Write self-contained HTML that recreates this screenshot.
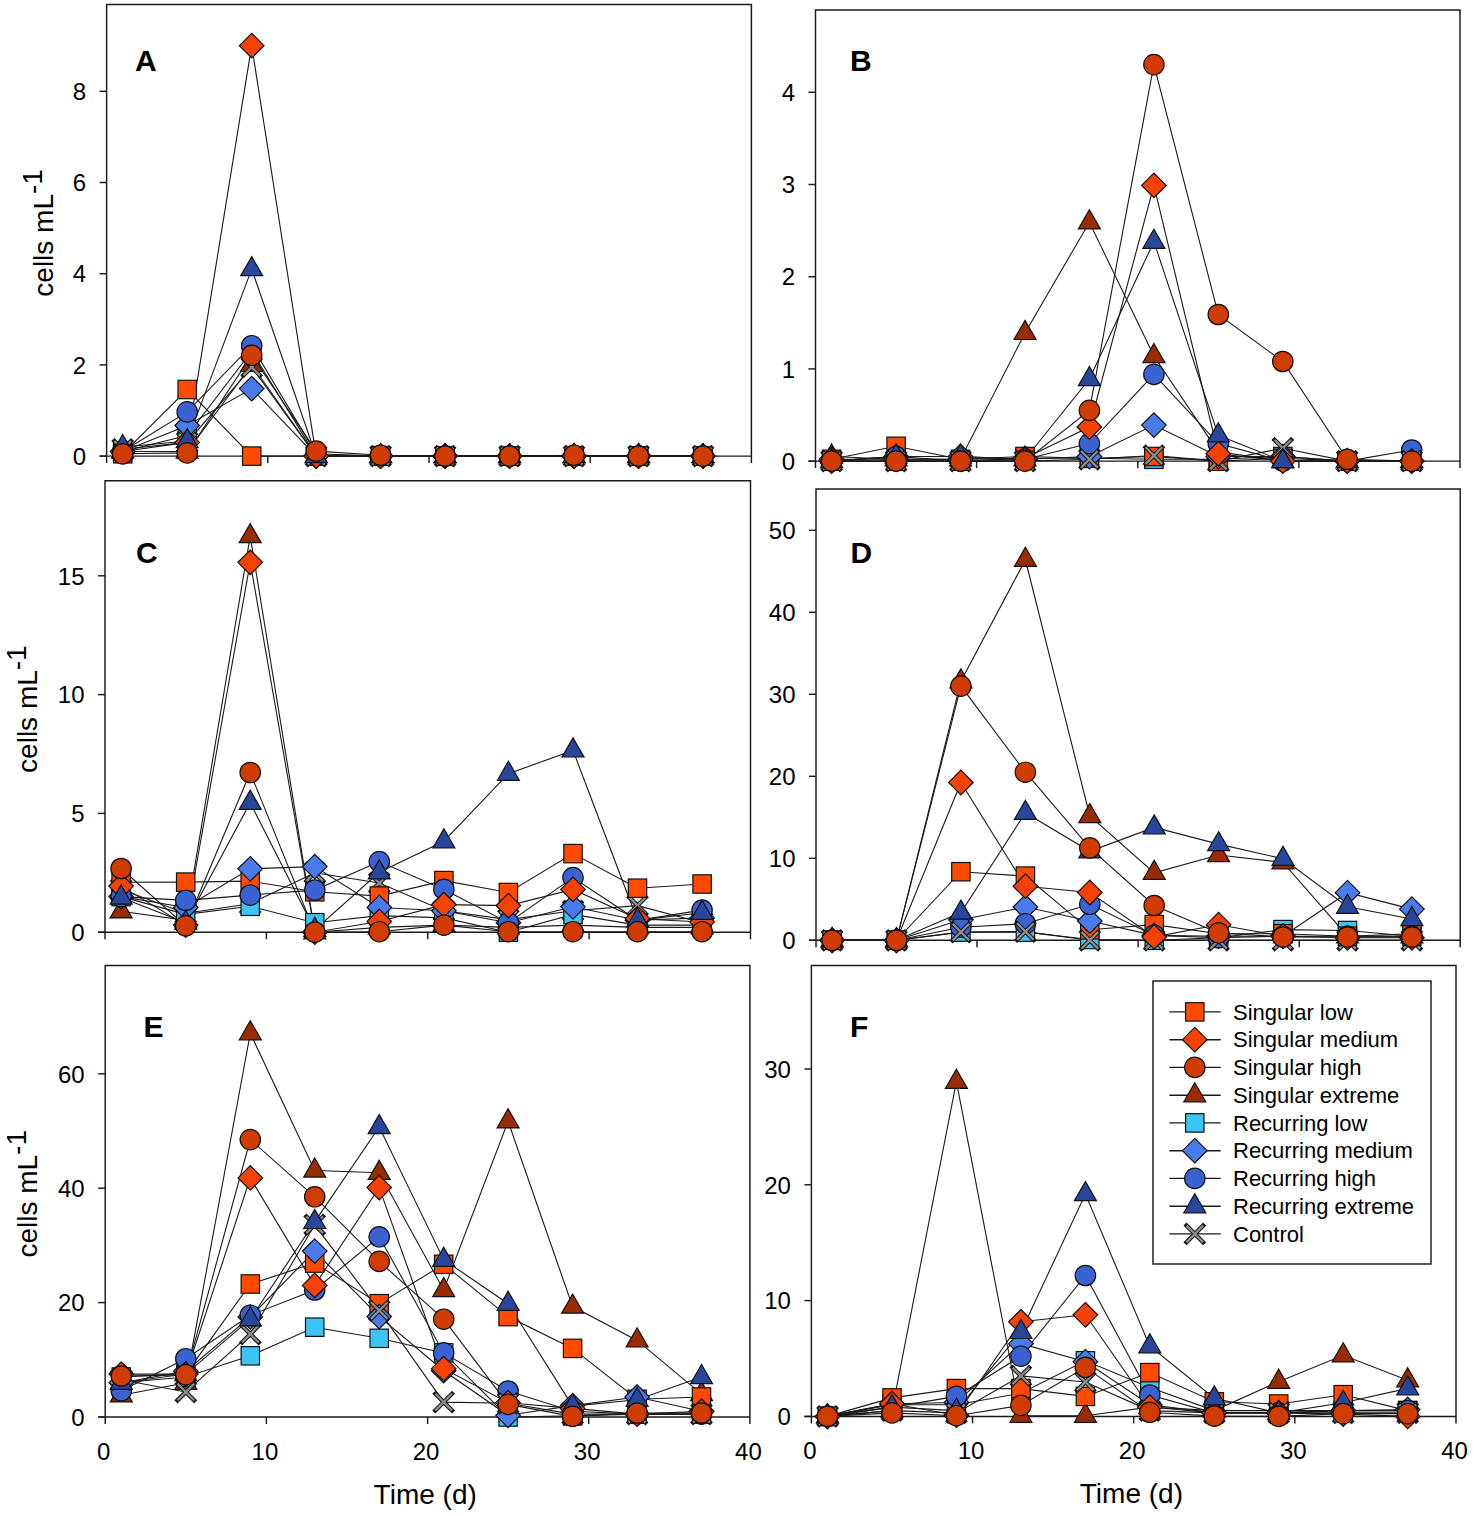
<!DOCTYPE html><html><head><meta charset="utf-8"><style>html,body{margin:0;padding:0;background:#fff}svg{display:block}</style></head><body><svg width="1476" height="1516" viewBox="0 0 1476 1516" font-family='"Liberation Sans", sans-serif'><rect width="1476" height="1516" fill="#fff"/><g><path d="M106.6 463.1V4.5H751.4V463.1" fill="none" stroke="#1a1a1a" stroke-width="1.45"/><path d="M99.6 456.1H751.4" fill="none" stroke="#1a1a1a" stroke-width="1.45"/><path d="M99.6 456.1H106.6" stroke="#1a1a1a" stroke-width="1.45"/><text x="86.1" y="464.8" font-size="24" text-anchor="end">0</text><path d="M99.6 364.9H106.6" stroke="#1a1a1a" stroke-width="1.45"/><text x="86.1" y="373.6" font-size="24" text-anchor="end">2</text><path d="M99.6 273.7H106.6" stroke="#1a1a1a" stroke-width="1.45"/><text x="86.1" y="282.4" font-size="24" text-anchor="end">4</text><path d="M99.6 182.5H106.6" stroke="#1a1a1a" stroke-width="1.45"/><text x="86.1" y="191.2" font-size="24" text-anchor="end">6</text><path d="M99.6 91.3H106.6" stroke="#1a1a1a" stroke-width="1.45"/><text x="86.1" y="100.0" font-size="24" text-anchor="end">8</text><path d="M267.8 456.1V463.1" stroke="#1a1a1a" stroke-width="1.45"/><path d="M429.0 456.1V463.1" stroke="#1a1a1a" stroke-width="1.45"/><path d="M590.2 456.1V463.1" stroke="#1a1a1a" stroke-width="1.45"/><text transform="translate(53,232.9) rotate(-90)" font-size="28" text-anchor="middle">cells mL<tspan dy="-11" font-size="28">-1</tspan></text><text x="135" y="71" font-size="30" font-weight="bold">A</text><polyline points="122.7,451.5 187.2,451.5 251.7,364.9 316.2,456.1 380.6,456.1 445.1,456.1 509.6,456.1 574.1,456.1 638.6,456.1 703.0,456.1" fill="none" stroke="#1a1a1a" stroke-width="1.1"/><polyline points="122.7,451.5 187.2,435.6 251.7,351.2 316.2,456.1 380.6,456.1 445.1,456.1 509.6,456.1 574.1,456.1 638.6,456.1 703.0,456.1" fill="none" stroke="#1a1a1a" stroke-width="1.1"/><polyline points="122.7,453.8 187.2,389.5 251.7,456.1 316.2,456.1 380.6,456.1 445.1,456.1 509.6,456.1 574.1,456.1 638.6,456.1 703.0,456.1" fill="none" stroke="#1a1a1a" stroke-width="1.1"/><polyline points="122.7,451.5 187.2,425.5 251.7,388.6 316.2,456.1 380.6,456.1 445.1,456.1 509.6,456.1 574.1,456.1 638.6,456.1 703.0,456.1" fill="none" stroke="#1a1a1a" stroke-width="1.1"/><polyline points="122.7,451.5 187.2,411.9 251.7,345.7 316.2,453.8 380.6,456.1 445.1,456.1 509.6,456.1 574.1,456.1 638.6,456.1 703.0,456.1" fill="none" stroke="#1a1a1a" stroke-width="1.1"/><polyline points="122.7,449.3 187.2,442.4 251.7,367.2 316.2,456.1 380.6,456.1 445.1,456.1 509.6,456.1 574.1,456.1 638.6,456.1 703.0,456.1" fill="none" stroke="#1a1a1a" stroke-width="1.1"/><polyline points="122.7,451.5 187.2,442.4 251.7,45.7 316.2,456.1 380.6,456.1 445.1,456.1 509.6,456.1 574.1,456.1 638.6,456.1 703.0,456.1" fill="none" stroke="#1a1a1a" stroke-width="1.1"/><polyline points="122.7,447.0 187.2,441.1 251.7,269.1 316.2,456.1 380.6,456.1 445.1,456.1 509.6,456.1 574.1,456.1 638.6,456.1 703.0,456.1" fill="none" stroke="#1a1a1a" stroke-width="1.1"/><polyline points="122.7,453.8 187.2,452.9 251.7,355.3 316.2,451.1 380.6,455.2 445.1,456.1 509.6,456.1 574.1,455.2 638.6,456.1 703.0,456.1" fill="none" stroke="#1a1a1a" stroke-width="1.1"/><path d="M122.7 439.0L133.7 458.1L111.7 458.1Z" fill="#992B00" stroke="#111" stroke-width="1.2"/><path d="M187.2 439.0L198.2 458.1L176.2 458.1Z" fill="#992B00" stroke="#111" stroke-width="1.2"/><path d="M251.7 352.4L262.7 371.5L240.7 371.5Z" fill="#992B00" stroke="#111" stroke-width="1.2"/><path d="M316.2 443.6L327.2 462.7L305.2 462.7Z" fill="#992B00" stroke="#111" stroke-width="1.2"/><path d="M380.6 443.6L391.6 462.7L369.6 462.7Z" fill="#992B00" stroke="#111" stroke-width="1.2"/><path d="M445.1 443.6L456.1 462.7L434.1 462.7Z" fill="#992B00" stroke="#111" stroke-width="1.2"/><path d="M509.6 443.6L520.6 462.7L498.6 462.7Z" fill="#992B00" stroke="#111" stroke-width="1.2"/><path d="M574.1 443.6L585.1 462.7L563.1 462.7Z" fill="#992B00" stroke="#111" stroke-width="1.2"/><path d="M638.6 443.6L649.6 462.7L627.6 462.7Z" fill="#992B00" stroke="#111" stroke-width="1.2"/><path d="M703.0 443.6L714.0 462.7L692.0 462.7Z" fill="#992B00" stroke="#111" stroke-width="1.2"/><rect x="113.5" y="442.3" width="18.4" height="18.4" fill="#3CC4F4" stroke="#111" stroke-width="1.2"/><rect x="178.0" y="426.4" width="18.4" height="18.4" fill="#3CC4F4" stroke="#111" stroke-width="1.2"/><rect x="242.5" y="342.0" width="18.4" height="18.4" fill="#3CC4F4" stroke="#111" stroke-width="1.2"/><rect x="307.0" y="446.9" width="18.4" height="18.4" fill="#3CC4F4" stroke="#111" stroke-width="1.2"/><rect x="371.4" y="446.9" width="18.4" height="18.4" fill="#3CC4F4" stroke="#111" stroke-width="1.2"/><rect x="435.9" y="446.9" width="18.4" height="18.4" fill="#3CC4F4" stroke="#111" stroke-width="1.2"/><rect x="500.4" y="446.9" width="18.4" height="18.4" fill="#3CC4F4" stroke="#111" stroke-width="1.2"/><rect x="564.9" y="446.9" width="18.4" height="18.4" fill="#3CC4F4" stroke="#111" stroke-width="1.2"/><rect x="629.4" y="446.9" width="18.4" height="18.4" fill="#3CC4F4" stroke="#111" stroke-width="1.2"/><rect x="693.8" y="446.9" width="18.4" height="18.4" fill="#3CC4F4" stroke="#111" stroke-width="1.2"/><rect x="113.5" y="444.6" width="18.4" height="18.4" fill="#FF4A00" stroke="#111" stroke-width="1.2"/><rect x="178.0" y="380.3" width="18.4" height="18.4" fill="#FF4A00" stroke="#111" stroke-width="1.2"/><rect x="242.5" y="446.9" width="18.4" height="18.4" fill="#FF4A00" stroke="#111" stroke-width="1.2"/><rect x="307.0" y="446.9" width="18.4" height="18.4" fill="#FF4A00" stroke="#111" stroke-width="1.2"/><rect x="371.4" y="446.9" width="18.4" height="18.4" fill="#FF4A00" stroke="#111" stroke-width="1.2"/><rect x="435.9" y="446.9" width="18.4" height="18.4" fill="#FF4A00" stroke="#111" stroke-width="1.2"/><rect x="500.4" y="446.9" width="18.4" height="18.4" fill="#FF4A00" stroke="#111" stroke-width="1.2"/><rect x="564.9" y="446.9" width="18.4" height="18.4" fill="#FF4A00" stroke="#111" stroke-width="1.2"/><rect x="629.4" y="446.9" width="18.4" height="18.4" fill="#FF4A00" stroke="#111" stroke-width="1.2"/><rect x="693.8" y="446.9" width="18.4" height="18.4" fill="#FF4A00" stroke="#111" stroke-width="1.2"/><path d="M122.7 439.2L135.0 451.5L122.7 463.8L110.4 451.5Z" fill="#4A7BEA" stroke="#111" stroke-width="1.2"/><path d="M187.2 413.2L199.5 425.5L187.2 437.8L174.9 425.5Z" fill="#4A7BEA" stroke="#111" stroke-width="1.2"/><path d="M251.7 376.3L264.0 388.6L251.7 400.9L239.4 388.6Z" fill="#4A7BEA" stroke="#111" stroke-width="1.2"/><path d="M316.2 443.8L328.5 456.1L316.2 468.4L303.9 456.1Z" fill="#4A7BEA" stroke="#111" stroke-width="1.2"/><path d="M380.6 443.8L392.9 456.1L380.6 468.4L368.3 456.1Z" fill="#4A7BEA" stroke="#111" stroke-width="1.2"/><path d="M445.1 443.8L457.4 456.1L445.1 468.4L432.8 456.1Z" fill="#4A7BEA" stroke="#111" stroke-width="1.2"/><path d="M509.6 443.8L521.9 456.1L509.6 468.4L497.3 456.1Z" fill="#4A7BEA" stroke="#111" stroke-width="1.2"/><path d="M574.1 443.8L586.4 456.1L574.1 468.4L561.8 456.1Z" fill="#4A7BEA" stroke="#111" stroke-width="1.2"/><path d="M638.6 443.8L650.9 456.1L638.6 468.4L626.3 456.1Z" fill="#4A7BEA" stroke="#111" stroke-width="1.2"/><path d="M703.0 443.8L715.3 456.1L703.0 468.4L690.7 456.1Z" fill="#4A7BEA" stroke="#111" stroke-width="1.2"/><circle cx="122.7" cy="451.5" r="10.2" fill="#3A62D2" stroke="#111" stroke-width="1.2"/><circle cx="187.2" cy="411.9" r="10.2" fill="#3A62D2" stroke="#111" stroke-width="1.2"/><circle cx="251.7" cy="345.7" r="10.2" fill="#3A62D2" stroke="#111" stroke-width="1.2"/><circle cx="316.2" cy="453.8" r="10.2" fill="#3A62D2" stroke="#111" stroke-width="1.2"/><circle cx="380.6" cy="456.1" r="10.2" fill="#3A62D2" stroke="#111" stroke-width="1.2"/><circle cx="445.1" cy="456.1" r="10.2" fill="#3A62D2" stroke="#111" stroke-width="1.2"/><circle cx="509.6" cy="456.1" r="10.2" fill="#3A62D2" stroke="#111" stroke-width="1.2"/><circle cx="574.1" cy="456.1" r="10.2" fill="#3A62D2" stroke="#111" stroke-width="1.2"/><circle cx="638.6" cy="456.1" r="10.2" fill="#3A62D2" stroke="#111" stroke-width="1.2"/><circle cx="703.0" cy="456.1" r="10.2" fill="#3A62D2" stroke="#111" stroke-width="1.2"/><path d="M114.4 441.0L131.0 457.6M131.0 441.0L114.4 457.6" stroke="#1a1a1a" stroke-width="4.4" stroke-linecap="square" fill="none"/><path d="M114.4 441.0L131.0 457.6M131.0 441.0L114.4 457.6" stroke="#8e8e8e" stroke-width="2.2" fill="none"/><path d="M178.9 434.1L195.5 450.7M195.5 434.1L178.9 450.7" stroke="#1a1a1a" stroke-width="4.4" stroke-linecap="square" fill="none"/><path d="M178.9 434.1L195.5 450.7M195.5 434.1L178.9 450.7" stroke="#8e8e8e" stroke-width="2.2" fill="none"/><path d="M243.4 358.9L260.0 375.5M260.0 358.9L243.4 375.5" stroke="#1a1a1a" stroke-width="4.4" stroke-linecap="square" fill="none"/><path d="M243.4 358.9L260.0 375.5M260.0 358.9L243.4 375.5" stroke="#8e8e8e" stroke-width="2.2" fill="none"/><path d="M307.9 447.8L324.5 464.4M324.5 447.8L307.9 464.4" stroke="#1a1a1a" stroke-width="4.4" stroke-linecap="square" fill="none"/><path d="M307.9 447.8L324.5 464.4M324.5 447.8L307.9 464.4" stroke="#8e8e8e" stroke-width="2.2" fill="none"/><path d="M372.3 447.8L388.9 464.4M388.9 447.8L372.3 464.4" stroke="#1a1a1a" stroke-width="4.4" stroke-linecap="square" fill="none"/><path d="M372.3 447.8L388.9 464.4M388.9 447.8L372.3 464.4" stroke="#8e8e8e" stroke-width="2.2" fill="none"/><path d="M436.8 447.8L453.4 464.4M453.4 447.8L436.8 464.4" stroke="#1a1a1a" stroke-width="4.4" stroke-linecap="square" fill="none"/><path d="M436.8 447.8L453.4 464.4M453.4 447.8L436.8 464.4" stroke="#8e8e8e" stroke-width="2.2" fill="none"/><path d="M501.3 447.8L517.9 464.4M517.9 447.8L501.3 464.4" stroke="#1a1a1a" stroke-width="4.4" stroke-linecap="square" fill="none"/><path d="M501.3 447.8L517.9 464.4M517.9 447.8L501.3 464.4" stroke="#8e8e8e" stroke-width="2.2" fill="none"/><path d="M565.8 447.8L582.4 464.4M582.4 447.8L565.8 464.4" stroke="#1a1a1a" stroke-width="4.4" stroke-linecap="square" fill="none"/><path d="M565.8 447.8L582.4 464.4M582.4 447.8L565.8 464.4" stroke="#8e8e8e" stroke-width="2.2" fill="none"/><path d="M630.3 447.8L646.9 464.4M646.9 447.8L630.3 464.4" stroke="#1a1a1a" stroke-width="4.4" stroke-linecap="square" fill="none"/><path d="M630.3 447.8L646.9 464.4M646.9 447.8L630.3 464.4" stroke="#8e8e8e" stroke-width="2.2" fill="none"/><path d="M694.7 447.8L711.3 464.4M711.3 447.8L694.7 464.4" stroke="#1a1a1a" stroke-width="4.4" stroke-linecap="square" fill="none"/><path d="M694.7 447.8L711.3 464.4M711.3 447.8L694.7 464.4" stroke="#8e8e8e" stroke-width="2.2" fill="none"/><path d="M122.7 439.2L135.0 451.5L122.7 463.8L110.4 451.5Z" fill="#F54200" stroke="#111" stroke-width="1.2"/><path d="M187.2 430.1L199.5 442.4L187.2 454.7L174.9 442.4Z" fill="#F54200" stroke="#111" stroke-width="1.2"/><path d="M251.7 33.4L264.0 45.7L251.7 58.0L239.4 45.7Z" fill="#F54200" stroke="#111" stroke-width="1.2"/><path d="M316.2 443.8L328.5 456.1L316.2 468.4L303.9 456.1Z" fill="#F54200" stroke="#111" stroke-width="1.2"/><path d="M380.6 443.8L392.9 456.1L380.6 468.4L368.3 456.1Z" fill="#F54200" stroke="#111" stroke-width="1.2"/><path d="M445.1 443.8L457.4 456.1L445.1 468.4L432.8 456.1Z" fill="#F54200" stroke="#111" stroke-width="1.2"/><path d="M509.6 443.8L521.9 456.1L509.6 468.4L497.3 456.1Z" fill="#F54200" stroke="#111" stroke-width="1.2"/><path d="M574.1 443.8L586.4 456.1L574.1 468.4L561.8 456.1Z" fill="#F54200" stroke="#111" stroke-width="1.2"/><path d="M638.6 443.8L650.9 456.1L638.6 468.4L626.3 456.1Z" fill="#F54200" stroke="#111" stroke-width="1.2"/><path d="M703.0 443.8L715.3 456.1L703.0 468.4L690.7 456.1Z" fill="#F54200" stroke="#111" stroke-width="1.2"/><path d="M122.7 434.5L133.7 453.6L111.7 453.6Z" fill="#27469C" stroke="#111" stroke-width="1.2"/><path d="M187.2 428.6L198.2 447.7L176.2 447.7Z" fill="#27469C" stroke="#111" stroke-width="1.2"/><path d="M251.7 256.6L262.7 275.7L240.7 275.7Z" fill="#27469C" stroke="#111" stroke-width="1.2"/><path d="M316.2 443.6L327.2 462.7L305.2 462.7Z" fill="#27469C" stroke="#111" stroke-width="1.2"/><path d="M380.6 443.6L391.6 462.7L369.6 462.7Z" fill="#27469C" stroke="#111" stroke-width="1.2"/><path d="M445.1 443.6L456.1 462.7L434.1 462.7Z" fill="#27469C" stroke="#111" stroke-width="1.2"/><path d="M509.6 443.6L520.6 462.7L498.6 462.7Z" fill="#27469C" stroke="#111" stroke-width="1.2"/><path d="M574.1 443.6L585.1 462.7L563.1 462.7Z" fill="#27469C" stroke="#111" stroke-width="1.2"/><path d="M638.6 443.6L649.6 462.7L627.6 462.7Z" fill="#27469C" stroke="#111" stroke-width="1.2"/><path d="M703.0 443.6L714.0 462.7L692.0 462.7Z" fill="#27469C" stroke="#111" stroke-width="1.2"/><circle cx="122.7" cy="453.8" r="10.2" fill="#D03C00" stroke="#111" stroke-width="1.2"/><circle cx="187.2" cy="452.9" r="10.2" fill="#D03C00" stroke="#111" stroke-width="1.2"/><circle cx="251.7" cy="355.3" r="10.2" fill="#D03C00" stroke="#111" stroke-width="1.2"/><circle cx="316.2" cy="451.1" r="10.2" fill="#D03C00" stroke="#111" stroke-width="1.2"/><circle cx="380.6" cy="455.2" r="10.2" fill="#D03C00" stroke="#111" stroke-width="1.2"/><circle cx="445.1" cy="456.1" r="10.2" fill="#D03C00" stroke="#111" stroke-width="1.2"/><circle cx="509.6" cy="456.1" r="10.2" fill="#D03C00" stroke="#111" stroke-width="1.2"/><circle cx="574.1" cy="455.2" r="10.2" fill="#D03C00" stroke="#111" stroke-width="1.2"/><circle cx="638.6" cy="456.1" r="10.2" fill="#D03C00" stroke="#111" stroke-width="1.2"/><circle cx="703.0" cy="456.1" r="10.2" fill="#D03C00" stroke="#111" stroke-width="1.2"/></g><g><path d="M815.5 468.1V10H1460V468.1" fill="none" stroke="#1a1a1a" stroke-width="1.45"/><path d="M808.5 461.1H1460" fill="none" stroke="#1a1a1a" stroke-width="1.45"/><path d="M808.5 461.1H815.5" stroke="#1a1a1a" stroke-width="1.45"/><text x="795.0" y="469.8" font-size="24" text-anchor="end">0</text><path d="M808.5 368.9H815.5" stroke="#1a1a1a" stroke-width="1.45"/><text x="795.0" y="377.6" font-size="24" text-anchor="end">1</text><path d="M808.5 276.7H815.5" stroke="#1a1a1a" stroke-width="1.45"/><text x="795.0" y="285.4" font-size="24" text-anchor="end">2</text><path d="M808.5 184.5H815.5" stroke="#1a1a1a" stroke-width="1.45"/><text x="795.0" y="193.2" font-size="24" text-anchor="end">3</text><path d="M808.5 92.3H815.5" stroke="#1a1a1a" stroke-width="1.45"/><text x="795.0" y="101.0" font-size="24" text-anchor="end">4</text><path d="M976.6 461.1V468.1" stroke="#1a1a1a" stroke-width="1.45"/><path d="M1137.8 461.1V468.1" stroke="#1a1a1a" stroke-width="1.45"/><path d="M1298.9 461.1V468.1" stroke="#1a1a1a" stroke-width="1.45"/><text x="850" y="71" font-size="30" font-weight="bold">B</text><polyline points="831.6,456.5 896.1,459.3 960.5,459.3 1025.0,332.9 1089.4,222.3 1153.9,356.0 1218.3,451.9 1282.8,461.1 1347.2,461.1 1411.7,461.1" fill="none" stroke="#1a1a1a" stroke-width="1.1"/><polyline points="831.6,461.1 896.1,461.1 960.5,461.1 1025.0,458.3 1089.4,458.3 1153.9,459.3 1218.3,459.3 1282.8,456.5 1347.2,461.1 1411.7,461.1" fill="none" stroke="#1a1a1a" stroke-width="1.1"/><polyline points="831.6,459.3 896.1,446.3 960.5,459.3 1025.0,456.5 1089.4,458.3 1153.9,456.5 1218.3,461.1 1282.8,458.3 1347.2,461.1 1411.7,461.1" fill="none" stroke="#1a1a1a" stroke-width="1.1"/><polyline points="831.6,461.1 896.1,456.5 960.5,456.5 1025.0,459.3 1089.4,456.5 1153.9,425.1 1218.3,456.5 1282.8,456.5 1347.2,461.1 1411.7,461.1" fill="none" stroke="#1a1a1a" stroke-width="1.1"/><polyline points="831.6,461.1 896.1,456.5 960.5,461.1 1025.0,459.3 1089.4,443.6 1153.9,374.4 1218.3,443.6 1282.8,461.1 1347.2,461.1 1411.7,450.0" fill="none" stroke="#1a1a1a" stroke-width="1.1"/><polyline points="831.6,461.1 896.1,461.1 960.5,461.1 1025.0,461.1 1089.4,459.3 1153.9,455.6 1218.3,461.1 1282.8,448.2 1347.2,461.1 1411.7,461.1" fill="none" stroke="#1a1a1a" stroke-width="1.1"/><polyline points="831.6,459.3 896.1,459.3 960.5,459.3 1025.0,458.3 1089.4,427.0 1153.9,185.4 1218.3,453.7 1282.8,461.1 1347.2,461.1 1411.7,461.1" fill="none" stroke="#1a1a1a" stroke-width="1.1"/><polyline points="831.6,461.1 896.1,456.5 960.5,456.5 1025.0,459.3 1089.4,379.0 1153.9,241.7 1218.3,435.3 1282.8,461.1 1347.2,461.1 1411.7,461.1" fill="none" stroke="#1a1a1a" stroke-width="1.1"/><polyline points="831.6,461.1 896.1,461.1 960.5,461.1 1025.0,461.1 1089.4,410.4 1153.9,64.6 1218.3,314.5 1282.8,361.5 1347.2,459.3 1411.7,461.1" fill="none" stroke="#1a1a1a" stroke-width="1.1"/><path d="M831.6 444.0L842.6 463.1L820.6 463.1Z" fill="#992B00" stroke="#111" stroke-width="1.2"/><path d="M896.1 446.8L907.1 465.9L885.1 465.9Z" fill="#992B00" stroke="#111" stroke-width="1.2"/><path d="M960.5 446.8L971.5 465.9L949.5 465.9Z" fill="#992B00" stroke="#111" stroke-width="1.2"/><path d="M1025.0 320.4L1036.0 339.5L1014.0 339.5Z" fill="#992B00" stroke="#111" stroke-width="1.2"/><path d="M1089.4 209.8L1100.4 228.9L1078.4 228.9Z" fill="#992B00" stroke="#111" stroke-width="1.2"/><path d="M1153.9 343.5L1164.9 362.6L1142.9 362.6Z" fill="#992B00" stroke="#111" stroke-width="1.2"/><path d="M1218.3 439.4L1229.3 458.5L1207.3 458.5Z" fill="#992B00" stroke="#111" stroke-width="1.2"/><path d="M1282.8 448.6L1293.8 467.7L1271.8 467.7Z" fill="#992B00" stroke="#111" stroke-width="1.2"/><path d="M1347.2 448.6L1358.2 467.7L1336.2 467.7Z" fill="#992B00" stroke="#111" stroke-width="1.2"/><path d="M1411.7 448.6L1422.7 467.7L1400.7 467.7Z" fill="#992B00" stroke="#111" stroke-width="1.2"/><rect x="822.4" y="451.9" width="18.4" height="18.4" fill="#3CC4F4" stroke="#111" stroke-width="1.2"/><rect x="886.9" y="451.9" width="18.4" height="18.4" fill="#3CC4F4" stroke="#111" stroke-width="1.2"/><rect x="951.3" y="451.9" width="18.4" height="18.4" fill="#3CC4F4" stroke="#111" stroke-width="1.2"/><rect x="1015.8" y="449.1" width="18.4" height="18.4" fill="#3CC4F4" stroke="#111" stroke-width="1.2"/><rect x="1080.2" y="449.1" width="18.4" height="18.4" fill="#3CC4F4" stroke="#111" stroke-width="1.2"/><rect x="1144.7" y="450.1" width="18.4" height="18.4" fill="#3CC4F4" stroke="#111" stroke-width="1.2"/><rect x="1209.1" y="450.1" width="18.4" height="18.4" fill="#3CC4F4" stroke="#111" stroke-width="1.2"/><rect x="1273.6" y="447.3" width="18.4" height="18.4" fill="#3CC4F4" stroke="#111" stroke-width="1.2"/><rect x="1338.0" y="451.9" width="18.4" height="18.4" fill="#3CC4F4" stroke="#111" stroke-width="1.2"/><rect x="1402.5" y="451.9" width="18.4" height="18.4" fill="#3CC4F4" stroke="#111" stroke-width="1.2"/><rect x="822.4" y="450.1" width="18.4" height="18.4" fill="#FF4A00" stroke="#111" stroke-width="1.2"/><rect x="886.9" y="437.1" width="18.4" height="18.4" fill="#FF4A00" stroke="#111" stroke-width="1.2"/><rect x="951.3" y="450.1" width="18.4" height="18.4" fill="#FF4A00" stroke="#111" stroke-width="1.2"/><rect x="1015.8" y="447.3" width="18.4" height="18.4" fill="#FF4A00" stroke="#111" stroke-width="1.2"/><rect x="1080.2" y="449.1" width="18.4" height="18.4" fill="#FF4A00" stroke="#111" stroke-width="1.2"/><rect x="1144.7" y="447.3" width="18.4" height="18.4" fill="#FF4A00" stroke="#111" stroke-width="1.2"/><rect x="1209.1" y="451.9" width="18.4" height="18.4" fill="#FF4A00" stroke="#111" stroke-width="1.2"/><rect x="1273.6" y="449.1" width="18.4" height="18.4" fill="#FF4A00" stroke="#111" stroke-width="1.2"/><rect x="1338.0" y="451.9" width="18.4" height="18.4" fill="#FF4A00" stroke="#111" stroke-width="1.2"/><rect x="1402.5" y="451.9" width="18.4" height="18.4" fill="#FF4A00" stroke="#111" stroke-width="1.2"/><path d="M831.6 448.8L843.9 461.1L831.6 473.4L819.3 461.1Z" fill="#4A7BEA" stroke="#111" stroke-width="1.2"/><path d="M896.1 444.2L908.4 456.5L896.1 468.8L883.8 456.5Z" fill="#4A7BEA" stroke="#111" stroke-width="1.2"/><path d="M960.5 444.2L972.8 456.5L960.5 468.8L948.2 456.5Z" fill="#4A7BEA" stroke="#111" stroke-width="1.2"/><path d="M1025.0 447.0L1037.3 459.3L1025.0 471.6L1012.7 459.3Z" fill="#4A7BEA" stroke="#111" stroke-width="1.2"/><path d="M1089.4 444.2L1101.7 456.5L1089.4 468.8L1077.1 456.5Z" fill="#4A7BEA" stroke="#111" stroke-width="1.2"/><path d="M1153.9 412.8L1166.2 425.1L1153.9 437.4L1141.6 425.1Z" fill="#4A7BEA" stroke="#111" stroke-width="1.2"/><path d="M1218.3 444.2L1230.6 456.5L1218.3 468.8L1206.0 456.5Z" fill="#4A7BEA" stroke="#111" stroke-width="1.2"/><path d="M1282.8 444.2L1295.1 456.5L1282.8 468.8L1270.5 456.5Z" fill="#4A7BEA" stroke="#111" stroke-width="1.2"/><path d="M1347.2 448.8L1359.5 461.1L1347.2 473.4L1334.9 461.1Z" fill="#4A7BEA" stroke="#111" stroke-width="1.2"/><path d="M1411.7 448.8L1424.0 461.1L1411.7 473.4L1399.4 461.1Z" fill="#4A7BEA" stroke="#111" stroke-width="1.2"/><circle cx="831.6" cy="461.1" r="10.2" fill="#3A62D2" stroke="#111" stroke-width="1.2"/><circle cx="896.1" cy="456.5" r="10.2" fill="#3A62D2" stroke="#111" stroke-width="1.2"/><circle cx="960.5" cy="461.1" r="10.2" fill="#3A62D2" stroke="#111" stroke-width="1.2"/><circle cx="1025.0" cy="459.3" r="10.2" fill="#3A62D2" stroke="#111" stroke-width="1.2"/><circle cx="1089.4" cy="443.6" r="10.2" fill="#3A62D2" stroke="#111" stroke-width="1.2"/><circle cx="1153.9" cy="374.4" r="10.2" fill="#3A62D2" stroke="#111" stroke-width="1.2"/><circle cx="1218.3" cy="443.6" r="10.2" fill="#3A62D2" stroke="#111" stroke-width="1.2"/><circle cx="1282.8" cy="461.1" r="10.2" fill="#3A62D2" stroke="#111" stroke-width="1.2"/><circle cx="1347.2" cy="461.1" r="10.2" fill="#3A62D2" stroke="#111" stroke-width="1.2"/><circle cx="1411.7" cy="450.0" r="10.2" fill="#3A62D2" stroke="#111" stroke-width="1.2"/><path d="M823.3 452.8L839.9 469.4M839.9 452.8L823.3 469.4" stroke="#1a1a1a" stroke-width="4.4" stroke-linecap="square" fill="none"/><path d="M823.3 452.8L839.9 469.4M839.9 452.8L823.3 469.4" stroke="#8e8e8e" stroke-width="2.2" fill="none"/><path d="M887.8 452.8L904.4 469.4M904.4 452.8L887.8 469.4" stroke="#1a1a1a" stroke-width="4.4" stroke-linecap="square" fill="none"/><path d="M887.8 452.8L904.4 469.4M904.4 452.8L887.8 469.4" stroke="#8e8e8e" stroke-width="2.2" fill="none"/><path d="M952.2 452.8L968.8 469.4M968.8 452.8L952.2 469.4" stroke="#1a1a1a" stroke-width="4.4" stroke-linecap="square" fill="none"/><path d="M952.2 452.8L968.8 469.4M968.8 452.8L952.2 469.4" stroke="#8e8e8e" stroke-width="2.2" fill="none"/><path d="M1016.7 452.8L1033.3 469.4M1033.3 452.8L1016.7 469.4" stroke="#1a1a1a" stroke-width="4.4" stroke-linecap="square" fill="none"/><path d="M1016.7 452.8L1033.3 469.4M1033.3 452.8L1016.7 469.4" stroke="#8e8e8e" stroke-width="2.2" fill="none"/><path d="M1081.1 451.0L1097.7 467.6M1097.7 451.0L1081.1 467.6" stroke="#1a1a1a" stroke-width="4.4" stroke-linecap="square" fill="none"/><path d="M1081.1 451.0L1097.7 467.6M1097.7 451.0L1081.1 467.6" stroke="#8e8e8e" stroke-width="2.2" fill="none"/><path d="M1145.6 447.3L1162.2 463.9M1162.2 447.3L1145.6 463.9" stroke="#1a1a1a" stroke-width="4.4" stroke-linecap="square" fill="none"/><path d="M1145.6 447.3L1162.2 463.9M1162.2 447.3L1145.6 463.9" stroke="#8e8e8e" stroke-width="2.2" fill="none"/><path d="M1210.0 452.8L1226.6 469.4M1226.6 452.8L1210.0 469.4" stroke="#1a1a1a" stroke-width="4.4" stroke-linecap="square" fill="none"/><path d="M1210.0 452.8L1226.6 469.4M1226.6 452.8L1210.0 469.4" stroke="#8e8e8e" stroke-width="2.2" fill="none"/><path d="M1274.5 439.9L1291.1 456.5M1291.1 439.9L1274.5 456.5" stroke="#1a1a1a" stroke-width="4.4" stroke-linecap="square" fill="none"/><path d="M1274.5 439.9L1291.1 456.5M1291.1 439.9L1274.5 456.5" stroke="#8e8e8e" stroke-width="2.2" fill="none"/><path d="M1338.9 452.8L1355.5 469.4M1355.5 452.8L1338.9 469.4" stroke="#1a1a1a" stroke-width="4.4" stroke-linecap="square" fill="none"/><path d="M1338.9 452.8L1355.5 469.4M1355.5 452.8L1338.9 469.4" stroke="#8e8e8e" stroke-width="2.2" fill="none"/><path d="M1403.4 452.8L1420.0 469.4M1420.0 452.8L1403.4 469.4" stroke="#1a1a1a" stroke-width="4.4" stroke-linecap="square" fill="none"/><path d="M1403.4 452.8L1420.0 469.4M1420.0 452.8L1403.4 469.4" stroke="#8e8e8e" stroke-width="2.2" fill="none"/><path d="M831.6 447.0L843.9 459.3L831.6 471.6L819.3 459.3Z" fill="#F54200" stroke="#111" stroke-width="1.2"/><path d="M896.1 447.0L908.4 459.3L896.1 471.6L883.8 459.3Z" fill="#F54200" stroke="#111" stroke-width="1.2"/><path d="M960.5 447.0L972.8 459.3L960.5 471.6L948.2 459.3Z" fill="#F54200" stroke="#111" stroke-width="1.2"/><path d="M1025.0 446.0L1037.3 458.3L1025.0 470.6L1012.7 458.3Z" fill="#F54200" stroke="#111" stroke-width="1.2"/><path d="M1089.4 414.7L1101.7 427.0L1089.4 439.3L1077.1 427.0Z" fill="#F54200" stroke="#111" stroke-width="1.2"/><path d="M1153.9 173.1L1166.2 185.4L1153.9 197.7L1141.6 185.4Z" fill="#F54200" stroke="#111" stroke-width="1.2"/><path d="M1218.3 441.4L1230.6 453.7L1218.3 466.0L1206.0 453.7Z" fill="#F54200" stroke="#111" stroke-width="1.2"/><path d="M1282.8 448.8L1295.1 461.1L1282.8 473.4L1270.5 461.1Z" fill="#F54200" stroke="#111" stroke-width="1.2"/><path d="M1347.2 448.8L1359.5 461.1L1347.2 473.4L1334.9 461.1Z" fill="#F54200" stroke="#111" stroke-width="1.2"/><path d="M1411.7 448.8L1424.0 461.1L1411.7 473.4L1399.4 461.1Z" fill="#F54200" stroke="#111" stroke-width="1.2"/><path d="M831.6 448.6L842.6 467.7L820.6 467.7Z" fill="#27469C" stroke="#111" stroke-width="1.2"/><path d="M896.1 444.0L907.1 463.1L885.1 463.1Z" fill="#27469C" stroke="#111" stroke-width="1.2"/><path d="M960.5 444.0L971.5 463.1L949.5 463.1Z" fill="#27469C" stroke="#111" stroke-width="1.2"/><path d="M1025.0 446.8L1036.0 465.9L1014.0 465.9Z" fill="#27469C" stroke="#111" stroke-width="1.2"/><path d="M1089.4 366.5L1100.4 385.6L1078.4 385.6Z" fill="#27469C" stroke="#111" stroke-width="1.2"/><path d="M1153.9 229.2L1164.9 248.3L1142.9 248.3Z" fill="#27469C" stroke="#111" stroke-width="1.2"/><path d="M1218.3 422.8L1229.3 441.9L1207.3 441.9Z" fill="#27469C" stroke="#111" stroke-width="1.2"/><path d="M1282.8 448.6L1293.8 467.7L1271.8 467.7Z" fill="#27469C" stroke="#111" stroke-width="1.2"/><path d="M1347.2 448.6L1358.2 467.7L1336.2 467.7Z" fill="#27469C" stroke="#111" stroke-width="1.2"/><path d="M1411.7 448.6L1422.7 467.7L1400.7 467.7Z" fill="#27469C" stroke="#111" stroke-width="1.2"/><circle cx="831.6" cy="461.1" r="10.2" fill="#D03C00" stroke="#111" stroke-width="1.2"/><circle cx="896.1" cy="461.1" r="10.2" fill="#D03C00" stroke="#111" stroke-width="1.2"/><circle cx="960.5" cy="461.1" r="10.2" fill="#D03C00" stroke="#111" stroke-width="1.2"/><circle cx="1025.0" cy="461.1" r="10.2" fill="#D03C00" stroke="#111" stroke-width="1.2"/><circle cx="1089.4" cy="410.4" r="10.2" fill="#D03C00" stroke="#111" stroke-width="1.2"/><circle cx="1153.9" cy="64.6" r="10.2" fill="#D03C00" stroke="#111" stroke-width="1.2"/><circle cx="1218.3" cy="314.5" r="10.2" fill="#D03C00" stroke="#111" stroke-width="1.2"/><circle cx="1282.8" cy="361.5" r="10.2" fill="#D03C00" stroke="#111" stroke-width="1.2"/><circle cx="1347.2" cy="459.3" r="10.2" fill="#D03C00" stroke="#111" stroke-width="1.2"/><circle cx="1411.7" cy="461.1" r="10.2" fill="#D03C00" stroke="#111" stroke-width="1.2"/></g><g><path d="M105 939.2V480.7H750.5V939.2" fill="none" stroke="#1a1a1a" stroke-width="1.45"/><path d="M98 932.2H750.5" fill="none" stroke="#1a1a1a" stroke-width="1.45"/><path d="M98 932.2H105" stroke="#1a1a1a" stroke-width="1.45"/><text x="84.5" y="940.9" font-size="24" text-anchor="end">0</text><path d="M98 813.4H105" stroke="#1a1a1a" stroke-width="1.45"/><text x="84.5" y="822.1" font-size="24" text-anchor="end">5</text><path d="M98 694.6H105" stroke="#1a1a1a" stroke-width="1.45"/><text x="84.5" y="703.3" font-size="24" text-anchor="end">10</text><path d="M98 575.8H105" stroke="#1a1a1a" stroke-width="1.45"/><text x="84.5" y="584.5" font-size="24" text-anchor="end">15</text><path d="M266.4 932.2V939.2" stroke="#1a1a1a" stroke-width="1.45"/><path d="M427.8 932.2V939.2" stroke="#1a1a1a" stroke-width="1.45"/><path d="M589.1 932.2V939.2" stroke="#1a1a1a" stroke-width="1.45"/><text transform="translate(37,709.1) rotate(-90)" font-size="28" text-anchor="middle">cells mL<tspan dy="-11" font-size="28">-1</tspan></text><text x="136" y="563" font-size="30" font-weight="bold">C</text><polyline points="121.1,889.4 185.7,913.2 250.2,903.7 314.8,872.8 379.3,883.0 443.9,910.8 508.4,919.6 573.0,910.8 637.5,905.6 702.1,922.7" fill="none" stroke="#1a1a1a" stroke-width="1.1"/><polyline points="121.1,911.3 185.7,920.3 250.2,536.1 314.8,932.2 379.3,927.4 443.9,925.1 508.4,927.4 573.0,925.1 637.5,927.4 702.1,927.4" fill="none" stroke="#1a1a1a" stroke-width="1.1"/><polyline points="121.1,896.6 185.7,914.4 250.2,906.3 314.8,922.7 379.3,915.6 443.9,917.9 508.4,932.2 573.0,914.4 637.5,925.1 702.1,925.1" fill="none" stroke="#1a1a1a" stroke-width="1.1"/><polyline points="121.1,882.3 185.7,882.1 250.2,881.1 314.8,891.8 379.3,896.1 443.9,880.6 508.4,892.5 573.0,853.6 637.5,888.2 702.1,884.0" fill="none" stroke="#1a1a1a" stroke-width="1.1"/><polyline points="121.1,896.6 185.7,907.5 250.2,868.8 314.8,866.6 379.3,907.5 443.9,910.8 508.4,922.7 573.0,906.8 637.5,920.3 702.1,917.9" fill="none" stroke="#1a1a1a" stroke-width="1.1"/><polyline points="121.1,896.6 185.7,900.4 250.2,895.1 314.8,890.1 379.3,861.6 443.9,889.4 508.4,922.7 573.0,877.6 637.5,920.3 702.1,910.1" fill="none" stroke="#1a1a1a" stroke-width="1.1"/><polyline points="121.1,886.1 185.7,925.1 250.2,562.3 314.8,932.2 379.3,921.5 443.9,904.6 508.4,905.6 573.0,889.4 637.5,918.7 702.1,922.0" fill="none" stroke="#1a1a1a" stroke-width="1.1"/><polyline points="121.1,897.5 185.7,922.7 250.2,802.7 314.8,929.8 379.3,872.3 443.9,841.2 508.4,773.7 573.0,750.4 637.5,920.3 702.1,912.7" fill="none" stroke="#1a1a1a" stroke-width="1.1"/><polyline points="121.1,868.5 185.7,925.8 250.2,772.5 314.8,932.2 379.3,931.7 443.9,925.1 508.4,931.7 573.0,931.7 637.5,931.7 702.1,931.7" fill="none" stroke="#1a1a1a" stroke-width="1.1"/><path d="M112.8 881.1L129.4 897.7M129.4 881.1L112.8 897.7" stroke="#1a1a1a" stroke-width="4.4" stroke-linecap="square" fill="none"/><path d="M112.8 881.1L129.4 897.7M129.4 881.1L112.8 897.7" stroke="#8e8e8e" stroke-width="2.2" fill="none"/><path d="M177.4 904.9L194.0 921.5M194.0 904.9L177.4 921.5" stroke="#1a1a1a" stroke-width="4.4" stroke-linecap="square" fill="none"/><path d="M177.4 904.9L194.0 921.5M194.0 904.9L177.4 921.5" stroke="#8e8e8e" stroke-width="2.2" fill="none"/><path d="M241.9 895.4L258.5 912.0M258.5 895.4L241.9 912.0" stroke="#1a1a1a" stroke-width="4.4" stroke-linecap="square" fill="none"/><path d="M241.9 895.4L258.5 912.0M258.5 895.4L241.9 912.0" stroke="#8e8e8e" stroke-width="2.2" fill="none"/><path d="M306.5 864.5L323.1 881.1M323.1 864.5L306.5 881.1" stroke="#1a1a1a" stroke-width="4.4" stroke-linecap="square" fill="none"/><path d="M306.5 864.5L323.1 881.1M323.1 864.5L306.5 881.1" stroke="#8e8e8e" stroke-width="2.2" fill="none"/><path d="M371.0 874.7L387.6 891.3M387.6 874.7L371.0 891.3" stroke="#1a1a1a" stroke-width="4.4" stroke-linecap="square" fill="none"/><path d="M371.0 874.7L387.6 891.3M387.6 874.7L371.0 891.3" stroke="#8e8e8e" stroke-width="2.2" fill="none"/><path d="M435.6 902.5L452.2 919.1M452.2 902.5L435.6 919.1" stroke="#1a1a1a" stroke-width="4.4" stroke-linecap="square" fill="none"/><path d="M435.6 902.5L452.2 919.1M452.2 902.5L435.6 919.1" stroke="#8e8e8e" stroke-width="2.2" fill="none"/><path d="M500.1 911.3L516.7 927.9M516.7 911.3L500.1 927.9" stroke="#1a1a1a" stroke-width="4.4" stroke-linecap="square" fill="none"/><path d="M500.1 911.3L516.7 927.9M516.7 911.3L500.1 927.9" stroke="#8e8e8e" stroke-width="2.2" fill="none"/><path d="M564.7 902.5L581.3 919.1M581.3 902.5L564.7 919.1" stroke="#1a1a1a" stroke-width="4.4" stroke-linecap="square" fill="none"/><path d="M564.7 902.5L581.3 919.1M581.3 902.5L564.7 919.1" stroke="#8e8e8e" stroke-width="2.2" fill="none"/><path d="M629.2 897.3L645.8 913.9M645.8 897.3L629.2 913.9" stroke="#1a1a1a" stroke-width="4.4" stroke-linecap="square" fill="none"/><path d="M629.2 897.3L645.8 913.9M645.8 897.3L629.2 913.9" stroke="#8e8e8e" stroke-width="2.2" fill="none"/><path d="M693.8 914.4L710.4 931.0M710.4 914.4L693.8 931.0" stroke="#1a1a1a" stroke-width="4.4" stroke-linecap="square" fill="none"/><path d="M693.8 914.4L710.4 931.0M710.4 914.4L693.8 931.0" stroke="#8e8e8e" stroke-width="2.2" fill="none"/><path d="M121.1 898.8L132.1 917.9L110.1 917.9Z" fill="#992B00" stroke="#111" stroke-width="1.2"/><path d="M185.7 907.8L196.7 926.9L174.7 926.9Z" fill="#992B00" stroke="#111" stroke-width="1.2"/><path d="M250.2 523.6L261.2 542.7L239.2 542.7Z" fill="#992B00" stroke="#111" stroke-width="1.2"/><path d="M314.8 919.7L325.8 938.8L303.8 938.8Z" fill="#992B00" stroke="#111" stroke-width="1.2"/><path d="M379.3 914.9L390.3 934.0L368.3 934.0Z" fill="#992B00" stroke="#111" stroke-width="1.2"/><path d="M443.9 912.6L454.9 931.7L432.9 931.7Z" fill="#992B00" stroke="#111" stroke-width="1.2"/><path d="M508.4 914.9L519.4 934.0L497.4 934.0Z" fill="#992B00" stroke="#111" stroke-width="1.2"/><path d="M573.0 912.6L584.0 931.7L562.0 931.7Z" fill="#992B00" stroke="#111" stroke-width="1.2"/><path d="M637.5 914.9L648.5 934.0L626.5 934.0Z" fill="#992B00" stroke="#111" stroke-width="1.2"/><path d="M702.1 914.9L713.1 934.0L691.1 934.0Z" fill="#992B00" stroke="#111" stroke-width="1.2"/><rect x="111.9" y="887.4" width="18.4" height="18.4" fill="#3CC4F4" stroke="#111" stroke-width="1.2"/><rect x="176.5" y="905.2" width="18.4" height="18.4" fill="#3CC4F4" stroke="#111" stroke-width="1.2"/><rect x="241.0" y="897.1" width="18.4" height="18.4" fill="#3CC4F4" stroke="#111" stroke-width="1.2"/><rect x="305.6" y="913.5" width="18.4" height="18.4" fill="#3CC4F4" stroke="#111" stroke-width="1.2"/><rect x="370.1" y="906.4" width="18.4" height="18.4" fill="#3CC4F4" stroke="#111" stroke-width="1.2"/><rect x="434.7" y="908.7" width="18.4" height="18.4" fill="#3CC4F4" stroke="#111" stroke-width="1.2"/><rect x="499.2" y="923.0" width="18.4" height="18.4" fill="#3CC4F4" stroke="#111" stroke-width="1.2"/><rect x="563.8" y="905.2" width="18.4" height="18.4" fill="#3CC4F4" stroke="#111" stroke-width="1.2"/><rect x="628.3" y="915.9" width="18.4" height="18.4" fill="#3CC4F4" stroke="#111" stroke-width="1.2"/><rect x="692.9" y="915.9" width="18.4" height="18.4" fill="#3CC4F4" stroke="#111" stroke-width="1.2"/><rect x="111.9" y="873.1" width="18.4" height="18.4" fill="#FF4A00" stroke="#111" stroke-width="1.2"/><rect x="176.5" y="872.9" width="18.4" height="18.4" fill="#FF4A00" stroke="#111" stroke-width="1.2"/><rect x="241.0" y="871.9" width="18.4" height="18.4" fill="#FF4A00" stroke="#111" stroke-width="1.2"/><rect x="305.6" y="882.6" width="18.4" height="18.4" fill="#FF4A00" stroke="#111" stroke-width="1.2"/><rect x="370.1" y="886.9" width="18.4" height="18.4" fill="#FF4A00" stroke="#111" stroke-width="1.2"/><rect x="434.7" y="871.4" width="18.4" height="18.4" fill="#FF4A00" stroke="#111" stroke-width="1.2"/><rect x="499.2" y="883.3" width="18.4" height="18.4" fill="#FF4A00" stroke="#111" stroke-width="1.2"/><rect x="563.8" y="844.4" width="18.4" height="18.4" fill="#FF4A00" stroke="#111" stroke-width="1.2"/><rect x="628.3" y="879.0" width="18.4" height="18.4" fill="#FF4A00" stroke="#111" stroke-width="1.2"/><rect x="692.9" y="874.8" width="18.4" height="18.4" fill="#FF4A00" stroke="#111" stroke-width="1.2"/><path d="M121.1 884.3L133.4 896.6L121.1 908.9L108.8 896.6Z" fill="#4A7BEA" stroke="#111" stroke-width="1.2"/><path d="M185.7 895.2L198.0 907.5L185.7 919.8L173.4 907.5Z" fill="#4A7BEA" stroke="#111" stroke-width="1.2"/><path d="M250.2 856.5L262.5 868.8L250.2 881.1L237.9 868.8Z" fill="#4A7BEA" stroke="#111" stroke-width="1.2"/><path d="M314.8 854.3L327.1 866.6L314.8 878.9L302.5 866.6Z" fill="#4A7BEA" stroke="#111" stroke-width="1.2"/><path d="M379.3 895.2L391.6 907.5L379.3 919.8L367.0 907.5Z" fill="#4A7BEA" stroke="#111" stroke-width="1.2"/><path d="M443.9 898.5L456.2 910.8L443.9 923.1L431.6 910.8Z" fill="#4A7BEA" stroke="#111" stroke-width="1.2"/><path d="M508.4 910.4L520.7 922.7L508.4 935.0L496.1 922.7Z" fill="#4A7BEA" stroke="#111" stroke-width="1.2"/><path d="M573.0 894.5L585.3 906.8L573.0 919.1L560.7 906.8Z" fill="#4A7BEA" stroke="#111" stroke-width="1.2"/><path d="M637.5 908.0L649.8 920.3L637.5 932.6L625.2 920.3Z" fill="#4A7BEA" stroke="#111" stroke-width="1.2"/><path d="M702.1 905.6L714.4 917.9L702.1 930.2L689.8 917.9Z" fill="#4A7BEA" stroke="#111" stroke-width="1.2"/><circle cx="121.1" cy="896.6" r="10.2" fill="#3A62D2" stroke="#111" stroke-width="1.2"/><circle cx="185.7" cy="900.4" r="10.2" fill="#3A62D2" stroke="#111" stroke-width="1.2"/><circle cx="250.2" cy="895.1" r="10.2" fill="#3A62D2" stroke="#111" stroke-width="1.2"/><circle cx="314.8" cy="890.1" r="10.2" fill="#3A62D2" stroke="#111" stroke-width="1.2"/><circle cx="379.3" cy="861.6" r="10.2" fill="#3A62D2" stroke="#111" stroke-width="1.2"/><circle cx="443.9" cy="889.4" r="10.2" fill="#3A62D2" stroke="#111" stroke-width="1.2"/><circle cx="508.4" cy="922.7" r="10.2" fill="#3A62D2" stroke="#111" stroke-width="1.2"/><circle cx="573.0" cy="877.6" r="10.2" fill="#3A62D2" stroke="#111" stroke-width="1.2"/><circle cx="637.5" cy="920.3" r="10.2" fill="#3A62D2" stroke="#111" stroke-width="1.2"/><circle cx="702.1" cy="910.1" r="10.2" fill="#3A62D2" stroke="#111" stroke-width="1.2"/><path d="M121.1 873.8L133.4 886.1L121.1 898.4L108.8 886.1Z" fill="#F54200" stroke="#111" stroke-width="1.2"/><path d="M185.7 912.8L198.0 925.1L185.7 937.4L173.4 925.1Z" fill="#F54200" stroke="#111" stroke-width="1.2"/><path d="M250.2 550.0L262.5 562.3L250.2 574.6L237.9 562.3Z" fill="#F54200" stroke="#111" stroke-width="1.2"/><path d="M314.8 919.9L327.1 932.2L314.8 944.5L302.5 932.2Z" fill="#F54200" stroke="#111" stroke-width="1.2"/><path d="M379.3 909.2L391.6 921.5L379.3 933.8L367.0 921.5Z" fill="#F54200" stroke="#111" stroke-width="1.2"/><path d="M443.9 892.3L456.2 904.6L443.9 916.9L431.6 904.6Z" fill="#F54200" stroke="#111" stroke-width="1.2"/><path d="M508.4 893.3L520.7 905.6L508.4 917.9L496.1 905.6Z" fill="#F54200" stroke="#111" stroke-width="1.2"/><path d="M573.0 877.1L585.3 889.4L573.0 901.7L560.7 889.4Z" fill="#F54200" stroke="#111" stroke-width="1.2"/><path d="M637.5 906.4L649.8 918.7L637.5 931.0L625.2 918.7Z" fill="#F54200" stroke="#111" stroke-width="1.2"/><path d="M702.1 909.7L714.4 922.0L702.1 934.3L689.8 922.0Z" fill="#F54200" stroke="#111" stroke-width="1.2"/><path d="M121.1 885.0L132.1 904.1L110.1 904.1Z" fill="#27469C" stroke="#111" stroke-width="1.2"/><path d="M185.7 910.2L196.7 929.3L174.7 929.3Z" fill="#27469C" stroke="#111" stroke-width="1.2"/><path d="M250.2 790.2L261.2 809.3L239.2 809.3Z" fill="#27469C" stroke="#111" stroke-width="1.2"/><path d="M314.8 917.3L325.8 936.4L303.8 936.4Z" fill="#27469C" stroke="#111" stroke-width="1.2"/><path d="M379.3 859.8L390.3 878.9L368.3 878.9Z" fill="#27469C" stroke="#111" stroke-width="1.2"/><path d="M443.9 828.7L454.9 847.8L432.9 847.8Z" fill="#27469C" stroke="#111" stroke-width="1.2"/><path d="M508.4 761.2L519.4 780.3L497.4 780.3Z" fill="#27469C" stroke="#111" stroke-width="1.2"/><path d="M573.0 737.9L584.0 757.0L562.0 757.0Z" fill="#27469C" stroke="#111" stroke-width="1.2"/><path d="M637.5 907.8L648.5 926.9L626.5 926.9Z" fill="#27469C" stroke="#111" stroke-width="1.2"/><path d="M702.1 900.2L713.1 919.3L691.1 919.3Z" fill="#27469C" stroke="#111" stroke-width="1.2"/><circle cx="121.1" cy="868.5" r="10.2" fill="#D03C00" stroke="#111" stroke-width="1.2"/><circle cx="185.7" cy="925.8" r="10.2" fill="#D03C00" stroke="#111" stroke-width="1.2"/><circle cx="250.2" cy="772.5" r="10.2" fill="#D03C00" stroke="#111" stroke-width="1.2"/><circle cx="314.8" cy="932.2" r="10.2" fill="#D03C00" stroke="#111" stroke-width="1.2"/><circle cx="379.3" cy="931.7" r="10.2" fill="#D03C00" stroke="#111" stroke-width="1.2"/><circle cx="443.9" cy="925.1" r="10.2" fill="#D03C00" stroke="#111" stroke-width="1.2"/><circle cx="508.4" cy="931.7" r="10.2" fill="#D03C00" stroke="#111" stroke-width="1.2"/><circle cx="573.0" cy="931.7" r="10.2" fill="#D03C00" stroke="#111" stroke-width="1.2"/><circle cx="637.5" cy="931.7" r="10.2" fill="#D03C00" stroke="#111" stroke-width="1.2"/><circle cx="702.1" cy="931.7" r="10.2" fill="#D03C00" stroke="#111" stroke-width="1.2"/></g><g><path d="M816 947.3V489H1460.2V947.3" fill="none" stroke="#1a1a1a" stroke-width="1.45"/><path d="M809 940.3H1460.2" fill="none" stroke="#1a1a1a" stroke-width="1.45"/><path d="M809 940.3H816" stroke="#1a1a1a" stroke-width="1.45"/><text x="795.5" y="949.0" font-size="24" text-anchor="end">0</text><path d="M809 858.3H816" stroke="#1a1a1a" stroke-width="1.45"/><text x="795.5" y="867.0" font-size="24" text-anchor="end">10</text><path d="M809 776.3H816" stroke="#1a1a1a" stroke-width="1.45"/><text x="795.5" y="785.0" font-size="24" text-anchor="end">20</text><path d="M809 694.3H816" stroke="#1a1a1a" stroke-width="1.45"/><text x="795.5" y="703.0" font-size="24" text-anchor="end">30</text><path d="M809 612.3H816" stroke="#1a1a1a" stroke-width="1.45"/><text x="795.5" y="621.0" font-size="24" text-anchor="end">40</text><path d="M809 530.3H816" stroke="#1a1a1a" stroke-width="1.45"/><text x="795.5" y="539.0" font-size="24" text-anchor="end">50</text><path d="M977.0 940.3V947.3" stroke="#1a1a1a" stroke-width="1.45"/><path d="M1138.1 940.3V947.3" stroke="#1a1a1a" stroke-width="1.45"/><path d="M1299.2 940.3V947.3" stroke="#1a1a1a" stroke-width="1.45"/><text x="850.5" y="563.3" font-size="30" font-weight="bold">D</text><polyline points="832.1,940.3 896.5,940.3 960.9,681.2 1025.4,559.8 1089.8,816.0 1154.2,872.8 1218.6,855.0 1283.0,862.4 1347.5,936.2 1411.9,936.2" fill="none" stroke="#1a1a1a" stroke-width="1.1"/><polyline points="832.1,940.3 896.5,940.3 960.9,932.1 1025.4,932.1 1089.8,939.5 1154.2,940.3 1218.6,937.8 1283.0,929.6 1347.5,930.5 1411.9,936.2" fill="none" stroke="#1a1a1a" stroke-width="1.1"/><polyline points="832.1,940.3 896.5,940.3 960.9,871.7 1025.4,876.1 1089.8,929.8 1154.2,924.6 1218.6,933.7 1283.0,933.7 1347.5,936.2 1411.9,933.7" fill="none" stroke="#1a1a1a" stroke-width="1.1"/><polyline points="832.1,940.3 896.5,940.3 960.9,919.8 1025.4,907.0 1089.8,921.0 1154.2,935.4 1218.6,936.2 1283.0,936.2 1347.5,892.7 1411.9,909.1" fill="none" stroke="#1a1a1a" stroke-width="1.1"/><polyline points="832.1,940.3 896.5,940.3 960.9,927.2 1025.4,923.7 1089.8,904.3 1154.2,935.4 1218.6,937.8 1283.0,936.2 1347.5,936.2 1411.9,936.2" fill="none" stroke="#1a1a1a" stroke-width="1.1"/><polyline points="832.1,940.3 896.5,940.3 960.9,932.1 1025.4,931.6 1089.8,940.3 1154.2,940.3 1218.6,940.3 1283.0,940.3 1347.5,940.3 1411.9,940.3" fill="none" stroke="#1a1a1a" stroke-width="1.1"/><polyline points="832.1,940.3 896.5,940.3 960.9,782.5 1025.4,886.2 1089.8,892.5 1154.2,936.9 1218.6,924.7 1283.0,936.2 1347.5,937.8 1411.9,937.8" fill="none" stroke="#1a1a1a" stroke-width="1.1"/><polyline points="832.1,940.3 896.5,940.3 960.9,912.6 1025.4,812.8 1089.8,851.3 1154.2,827.4 1218.6,844.1 1283.0,858.8 1347.5,906.7 1411.9,919.0" fill="none" stroke="#1a1a1a" stroke-width="1.1"/><polyline points="832.1,940.3 896.5,940.3 960.9,686.1 1025.4,772.2 1089.8,847.9 1154.2,905.5 1218.6,932.9 1283.0,937.0 1347.5,937.0 1411.9,937.0" fill="none" stroke="#1a1a1a" stroke-width="1.1"/><path d="M832.1 927.8L843.1 946.9L821.1 946.9Z" fill="#992B00" stroke="#111" stroke-width="1.2"/><path d="M896.5 927.8L907.5 946.9L885.5 946.9Z" fill="#992B00" stroke="#111" stroke-width="1.2"/><path d="M960.9 668.7L971.9 687.8L949.9 687.8Z" fill="#992B00" stroke="#111" stroke-width="1.2"/><path d="M1025.4 547.3L1036.4 566.4L1014.4 566.4Z" fill="#992B00" stroke="#111" stroke-width="1.2"/><path d="M1089.8 803.5L1100.8 822.6L1078.8 822.6Z" fill="#992B00" stroke="#111" stroke-width="1.2"/><path d="M1154.2 860.3L1165.2 879.4L1143.2 879.4Z" fill="#992B00" stroke="#111" stroke-width="1.2"/><path d="M1218.6 842.5L1229.6 861.6L1207.6 861.6Z" fill="#992B00" stroke="#111" stroke-width="1.2"/><path d="M1283.0 849.9L1294.0 869.0L1272.0 869.0Z" fill="#992B00" stroke="#111" stroke-width="1.2"/><path d="M1347.5 923.7L1358.5 942.8L1336.5 942.8Z" fill="#992B00" stroke="#111" stroke-width="1.2"/><path d="M1411.9 923.7L1422.9 942.8L1400.9 942.8Z" fill="#992B00" stroke="#111" stroke-width="1.2"/><rect x="822.9" y="931.1" width="18.4" height="18.4" fill="#3CC4F4" stroke="#111" stroke-width="1.2"/><rect x="887.3" y="931.1" width="18.4" height="18.4" fill="#3CC4F4" stroke="#111" stroke-width="1.2"/><rect x="951.7" y="922.9" width="18.4" height="18.4" fill="#3CC4F4" stroke="#111" stroke-width="1.2"/><rect x="1016.2" y="922.9" width="18.4" height="18.4" fill="#3CC4F4" stroke="#111" stroke-width="1.2"/><rect x="1080.6" y="930.3" width="18.4" height="18.4" fill="#3CC4F4" stroke="#111" stroke-width="1.2"/><rect x="1145.0" y="931.1" width="18.4" height="18.4" fill="#3CC4F4" stroke="#111" stroke-width="1.2"/><rect x="1209.4" y="928.6" width="18.4" height="18.4" fill="#3CC4F4" stroke="#111" stroke-width="1.2"/><rect x="1273.8" y="920.4" width="18.4" height="18.4" fill="#3CC4F4" stroke="#111" stroke-width="1.2"/><rect x="1338.3" y="921.3" width="18.4" height="18.4" fill="#3CC4F4" stroke="#111" stroke-width="1.2"/><rect x="1402.7" y="927.0" width="18.4" height="18.4" fill="#3CC4F4" stroke="#111" stroke-width="1.2"/><rect x="822.9" y="931.1" width="18.4" height="18.4" fill="#FF4A00" stroke="#111" stroke-width="1.2"/><rect x="887.3" y="931.1" width="18.4" height="18.4" fill="#FF4A00" stroke="#111" stroke-width="1.2"/><rect x="951.7" y="862.5" width="18.4" height="18.4" fill="#FF4A00" stroke="#111" stroke-width="1.2"/><rect x="1016.2" y="866.9" width="18.4" height="18.4" fill="#FF4A00" stroke="#111" stroke-width="1.2"/><rect x="1080.6" y="920.6" width="18.4" height="18.4" fill="#FF4A00" stroke="#111" stroke-width="1.2"/><rect x="1145.0" y="915.4" width="18.4" height="18.4" fill="#FF4A00" stroke="#111" stroke-width="1.2"/><rect x="1209.4" y="924.5" width="18.4" height="18.4" fill="#FF4A00" stroke="#111" stroke-width="1.2"/><rect x="1273.8" y="924.5" width="18.4" height="18.4" fill="#FF4A00" stroke="#111" stroke-width="1.2"/><rect x="1338.3" y="927.0" width="18.4" height="18.4" fill="#FF4A00" stroke="#111" stroke-width="1.2"/><rect x="1402.7" y="924.5" width="18.4" height="18.4" fill="#FF4A00" stroke="#111" stroke-width="1.2"/><path d="M832.1 928.0L844.4 940.3L832.1 952.6L819.8 940.3Z" fill="#4A7BEA" stroke="#111" stroke-width="1.2"/><path d="M896.5 928.0L908.8 940.3L896.5 952.6L884.2 940.3Z" fill="#4A7BEA" stroke="#111" stroke-width="1.2"/><path d="M960.9 907.5L973.2 919.8L960.9 932.1L948.6 919.8Z" fill="#4A7BEA" stroke="#111" stroke-width="1.2"/><path d="M1025.4 894.7L1037.7 907.0L1025.4 919.3L1013.1 907.0Z" fill="#4A7BEA" stroke="#111" stroke-width="1.2"/><path d="M1089.8 908.7L1102.1 921.0L1089.8 933.3L1077.5 921.0Z" fill="#4A7BEA" stroke="#111" stroke-width="1.2"/><path d="M1154.2 923.1L1166.5 935.4L1154.2 947.7L1141.9 935.4Z" fill="#4A7BEA" stroke="#111" stroke-width="1.2"/><path d="M1218.6 923.9L1230.9 936.2L1218.6 948.5L1206.3 936.2Z" fill="#4A7BEA" stroke="#111" stroke-width="1.2"/><path d="M1283.0 923.9L1295.3 936.2L1283.0 948.5L1270.7 936.2Z" fill="#4A7BEA" stroke="#111" stroke-width="1.2"/><path d="M1347.5 880.4L1359.8 892.7L1347.5 905.0L1335.2 892.7Z" fill="#4A7BEA" stroke="#111" stroke-width="1.2"/><path d="M1411.9 896.8L1424.2 909.1L1411.9 921.4L1399.6 909.1Z" fill="#4A7BEA" stroke="#111" stroke-width="1.2"/><circle cx="832.1" cy="940.3" r="10.2" fill="#3A62D2" stroke="#111" stroke-width="1.2"/><circle cx="896.5" cy="940.3" r="10.2" fill="#3A62D2" stroke="#111" stroke-width="1.2"/><circle cx="960.9" cy="927.2" r="10.2" fill="#3A62D2" stroke="#111" stroke-width="1.2"/><circle cx="1025.4" cy="923.7" r="10.2" fill="#3A62D2" stroke="#111" stroke-width="1.2"/><circle cx="1089.8" cy="904.3" r="10.2" fill="#3A62D2" stroke="#111" stroke-width="1.2"/><circle cx="1154.2" cy="935.4" r="10.2" fill="#3A62D2" stroke="#111" stroke-width="1.2"/><circle cx="1218.6" cy="937.8" r="10.2" fill="#3A62D2" stroke="#111" stroke-width="1.2"/><circle cx="1283.0" cy="936.2" r="10.2" fill="#3A62D2" stroke="#111" stroke-width="1.2"/><circle cx="1347.5" cy="936.2" r="10.2" fill="#3A62D2" stroke="#111" stroke-width="1.2"/><circle cx="1411.9" cy="936.2" r="10.2" fill="#3A62D2" stroke="#111" stroke-width="1.2"/><path d="M823.8 932.0L840.4 948.6M840.4 932.0L823.8 948.6" stroke="#1a1a1a" stroke-width="4.4" stroke-linecap="square" fill="none"/><path d="M823.8 932.0L840.4 948.6M840.4 932.0L823.8 948.6" stroke="#8e8e8e" stroke-width="2.2" fill="none"/><path d="M888.2 932.0L904.8 948.6M904.8 932.0L888.2 948.6" stroke="#1a1a1a" stroke-width="4.4" stroke-linecap="square" fill="none"/><path d="M888.2 932.0L904.8 948.6M904.8 932.0L888.2 948.6" stroke="#8e8e8e" stroke-width="2.2" fill="none"/><path d="M952.6 923.8L969.2 940.4M969.2 923.8L952.6 940.4" stroke="#1a1a1a" stroke-width="4.4" stroke-linecap="square" fill="none"/><path d="M952.6 923.8L969.2 940.4M969.2 923.8L952.6 940.4" stroke="#8e8e8e" stroke-width="2.2" fill="none"/><path d="M1017.1 923.3L1033.7 939.9M1033.7 923.3L1017.1 939.9" stroke="#1a1a1a" stroke-width="4.4" stroke-linecap="square" fill="none"/><path d="M1017.1 923.3L1033.7 939.9M1033.7 923.3L1017.1 939.9" stroke="#8e8e8e" stroke-width="2.2" fill="none"/><path d="M1081.5 932.0L1098.1 948.6M1098.1 932.0L1081.5 948.6" stroke="#1a1a1a" stroke-width="4.4" stroke-linecap="square" fill="none"/><path d="M1081.5 932.0L1098.1 948.6M1098.1 932.0L1081.5 948.6" stroke="#8e8e8e" stroke-width="2.2" fill="none"/><path d="M1145.9 932.0L1162.5 948.6M1162.5 932.0L1145.9 948.6" stroke="#1a1a1a" stroke-width="4.4" stroke-linecap="square" fill="none"/><path d="M1145.9 932.0L1162.5 948.6M1162.5 932.0L1145.9 948.6" stroke="#8e8e8e" stroke-width="2.2" fill="none"/><path d="M1210.3 932.0L1226.9 948.6M1226.9 932.0L1210.3 948.6" stroke="#1a1a1a" stroke-width="4.4" stroke-linecap="square" fill="none"/><path d="M1210.3 932.0L1226.9 948.6M1226.9 932.0L1210.3 948.6" stroke="#8e8e8e" stroke-width="2.2" fill="none"/><path d="M1274.7 932.0L1291.3 948.6M1291.3 932.0L1274.7 948.6" stroke="#1a1a1a" stroke-width="4.4" stroke-linecap="square" fill="none"/><path d="M1274.7 932.0L1291.3 948.6M1291.3 932.0L1274.7 948.6" stroke="#8e8e8e" stroke-width="2.2" fill="none"/><path d="M1339.2 932.0L1355.8 948.6M1355.8 932.0L1339.2 948.6" stroke="#1a1a1a" stroke-width="4.4" stroke-linecap="square" fill="none"/><path d="M1339.2 932.0L1355.8 948.6M1355.8 932.0L1339.2 948.6" stroke="#8e8e8e" stroke-width="2.2" fill="none"/><path d="M1403.6 932.0L1420.2 948.6M1420.2 932.0L1403.6 948.6" stroke="#1a1a1a" stroke-width="4.4" stroke-linecap="square" fill="none"/><path d="M1403.6 932.0L1420.2 948.6M1420.2 932.0L1403.6 948.6" stroke="#8e8e8e" stroke-width="2.2" fill="none"/><path d="M832.1 928.0L844.4 940.3L832.1 952.6L819.8 940.3Z" fill="#F54200" stroke="#111" stroke-width="1.2"/><path d="M896.5 928.0L908.8 940.3L896.5 952.6L884.2 940.3Z" fill="#F54200" stroke="#111" stroke-width="1.2"/><path d="M960.9 770.2L973.2 782.5L960.9 794.8L948.6 782.5Z" fill="#F54200" stroke="#111" stroke-width="1.2"/><path d="M1025.4 873.9L1037.7 886.2L1025.4 898.5L1013.1 886.2Z" fill="#F54200" stroke="#111" stroke-width="1.2"/><path d="M1089.8 880.2L1102.1 892.5L1089.8 904.8L1077.5 892.5Z" fill="#F54200" stroke="#111" stroke-width="1.2"/><path d="M1154.2 924.6L1166.5 936.9L1154.2 949.2L1141.9 936.9Z" fill="#F54200" stroke="#111" stroke-width="1.2"/><path d="M1218.6 912.4L1230.9 924.7L1218.6 937.0L1206.3 924.7Z" fill="#F54200" stroke="#111" stroke-width="1.2"/><path d="M1283.0 923.9L1295.3 936.2L1283.0 948.5L1270.7 936.2Z" fill="#F54200" stroke="#111" stroke-width="1.2"/><path d="M1347.5 925.5L1359.8 937.8L1347.5 950.1L1335.2 937.8Z" fill="#F54200" stroke="#111" stroke-width="1.2"/><path d="M1411.9 925.5L1424.2 937.8L1411.9 950.1L1399.6 937.8Z" fill="#F54200" stroke="#111" stroke-width="1.2"/><path d="M832.1 927.8L843.1 946.9L821.1 946.9Z" fill="#27469C" stroke="#111" stroke-width="1.2"/><path d="M896.5 927.8L907.5 946.9L885.5 946.9Z" fill="#27469C" stroke="#111" stroke-width="1.2"/><path d="M960.9 900.1L971.9 919.2L949.9 919.2Z" fill="#27469C" stroke="#111" stroke-width="1.2"/><path d="M1025.4 800.3L1036.4 819.4L1014.4 819.4Z" fill="#27469C" stroke="#111" stroke-width="1.2"/><path d="M1089.8 838.8L1100.8 857.9L1078.8 857.9Z" fill="#27469C" stroke="#111" stroke-width="1.2"/><path d="M1154.2 814.9L1165.2 834.0L1143.2 834.0Z" fill="#27469C" stroke="#111" stroke-width="1.2"/><path d="M1218.6 831.6L1229.6 850.7L1207.6 850.7Z" fill="#27469C" stroke="#111" stroke-width="1.2"/><path d="M1283.0 846.3L1294.0 865.4L1272.0 865.4Z" fill="#27469C" stroke="#111" stroke-width="1.2"/><path d="M1347.5 894.2L1358.5 913.3L1336.5 913.3Z" fill="#27469C" stroke="#111" stroke-width="1.2"/><path d="M1411.9 906.5L1422.9 925.6L1400.9 925.6Z" fill="#27469C" stroke="#111" stroke-width="1.2"/><circle cx="832.1" cy="940.3" r="10.2" fill="#D03C00" stroke="#111" stroke-width="1.2"/><circle cx="896.5" cy="940.3" r="10.2" fill="#D03C00" stroke="#111" stroke-width="1.2"/><circle cx="960.9" cy="686.1" r="10.2" fill="#D03C00" stroke="#111" stroke-width="1.2"/><circle cx="1025.4" cy="772.2" r="10.2" fill="#D03C00" stroke="#111" stroke-width="1.2"/><circle cx="1089.8" cy="847.9" r="10.2" fill="#D03C00" stroke="#111" stroke-width="1.2"/><circle cx="1154.2" cy="905.5" r="10.2" fill="#D03C00" stroke="#111" stroke-width="1.2"/><circle cx="1218.6" cy="932.9" r="10.2" fill="#D03C00" stroke="#111" stroke-width="1.2"/><circle cx="1283.0" cy="937.0" r="10.2" fill="#D03C00" stroke="#111" stroke-width="1.2"/><circle cx="1347.5" cy="937.0" r="10.2" fill="#D03C00" stroke="#111" stroke-width="1.2"/><circle cx="1411.9" cy="937.0" r="10.2" fill="#D03C00" stroke="#111" stroke-width="1.2"/></g><g><path d="M105.2 1424V965.5H749.9V1424" fill="none" stroke="#1a1a1a" stroke-width="1.45"/><path d="M98.2 1417H749.9" fill="none" stroke="#1a1a1a" stroke-width="1.45"/><path d="M98.2 1417.0H105.2" stroke="#1a1a1a" stroke-width="1.45"/><text x="84.7" y="1425.7" font-size="24" text-anchor="end">0</text><path d="M98.2 1302.6H105.2" stroke="#1a1a1a" stroke-width="1.45"/><text x="84.7" y="1311.3" font-size="24" text-anchor="end">20</text><path d="M98.2 1188.2H105.2" stroke="#1a1a1a" stroke-width="1.45"/><text x="84.7" y="1196.9" font-size="24" text-anchor="end">40</text><path d="M98.2 1073.8H105.2" stroke="#1a1a1a" stroke-width="1.45"/><text x="84.7" y="1082.5" font-size="24" text-anchor="end">60</text><path d="M266.4 1417V1424" stroke="#1a1a1a" stroke-width="1.45"/><path d="M427.6 1417V1424" stroke="#1a1a1a" stroke-width="1.45"/><path d="M588.7 1417V1424" stroke="#1a1a1a" stroke-width="1.45"/><text x="103.7" y="1460.0" font-size="24" text-anchor="middle">0</text><text x="264.9" y="1460.0" font-size="24" text-anchor="middle">10</text><text x="426.1" y="1460.0" font-size="24" text-anchor="middle">20</text><text x="587.2" y="1460.0" font-size="24" text-anchor="middle">30</text><text x="748.4" y="1460.0" font-size="24" text-anchor="middle">40</text><text x="425.2" y="1503.8" font-size="28" text-anchor="middle">Time (d)</text><text transform="translate(37,1193.8) rotate(-90)" font-size="28" text-anchor="middle">cells mL<tspan dy="-11" font-size="28">-1</tspan></text><text x="143.5" y="1036.6" font-size="30" font-weight="bold">E</text><polyline points="121.3,1395.3 185.8,1382.7 250.3,1033.2 314.7,1170.5 379.2,1172.8 443.7,1290.0 508.1,1121.3 572.6,1306.6 637.1,1340.4 701.5,1394.1" fill="none" stroke="#1a1a1a" stroke-width="1.1"/><polyline points="121.3,1382.7 185.8,1377.0 250.3,1355.8 314.7,1327.2 379.2,1338.3 443.7,1352.9 508.1,1417.0 572.6,1415.9 637.1,1414.1 701.5,1414.1" fill="none" stroke="#1a1a1a" stroke-width="1.1"/><polyline points="121.3,1377.0 185.8,1374.1 250.3,1284.0 314.7,1263.1 379.2,1303.7 443.7,1264.3 508.1,1316.6 572.6,1348.4 637.1,1399.3 701.5,1397.0" fill="none" stroke="#1a1a1a" stroke-width="1.1"/><polyline points="121.3,1382.7 185.8,1371.2 250.3,1316.9 314.7,1251.1 379.2,1316.6 443.7,1370.7 508.1,1415.3 572.6,1405.6 637.1,1397.0 701.5,1411.3" fill="none" stroke="#1a1a1a" stroke-width="1.1"/><polyline points="121.3,1390.7 185.8,1358.7 250.3,1315.2 314.7,1290.0 379.2,1236.8 443.7,1352.9 508.1,1391.0 572.6,1411.3 637.1,1414.1 701.5,1414.1" fill="none" stroke="#1a1a1a" stroke-width="1.1"/><polyline points="121.3,1379.8 185.8,1392.0 250.3,1334.1 314.7,1224.8 379.2,1310.6 443.7,1402.1 508.1,1403.3 572.6,1414.1 637.1,1414.1 701.5,1414.1" fill="none" stroke="#1a1a1a" stroke-width="1.1"/><polyline points="121.3,1374.1 185.8,1374.1 250.3,1177.9 314.7,1285.4 379.2,1187.6 443.7,1368.7 508.1,1402.7 572.6,1408.4 637.1,1414.1 701.5,1411.3" fill="none" stroke="#1a1a1a" stroke-width="1.1"/><polyline points="121.3,1382.7 185.8,1374.1 250.3,1319.2 314.7,1221.9 379.2,1127.0 443.7,1259.7 508.1,1303.7 572.6,1406.1 637.1,1399.8 701.5,1377.0" fill="none" stroke="#1a1a1a" stroke-width="1.1"/><polyline points="121.3,1376.0 185.8,1374.7 250.3,1139.6 314.7,1196.8 379.2,1261.4 443.7,1319.2 508.1,1404.4 572.6,1416.4 637.1,1413.0 701.5,1413.0" fill="none" stroke="#1a1a1a" stroke-width="1.1"/><path d="M121.3 1382.8L132.3 1401.9L110.3 1401.9Z" fill="#992B00" stroke="#111" stroke-width="1.2"/><path d="M185.8 1370.2L196.8 1389.3L174.8 1389.3Z" fill="#992B00" stroke="#111" stroke-width="1.2"/><path d="M250.3 1020.7L261.3 1039.8L239.3 1039.8Z" fill="#992B00" stroke="#111" stroke-width="1.2"/><path d="M314.7 1158.0L325.7 1177.1L303.7 1177.1Z" fill="#992B00" stroke="#111" stroke-width="1.2"/><path d="M379.2 1160.3L390.2 1179.4L368.2 1179.4Z" fill="#992B00" stroke="#111" stroke-width="1.2"/><path d="M443.7 1277.5L454.7 1296.6L432.7 1296.6Z" fill="#992B00" stroke="#111" stroke-width="1.2"/><path d="M508.1 1108.8L519.1 1127.9L497.1 1127.9Z" fill="#992B00" stroke="#111" stroke-width="1.2"/><path d="M572.6 1294.1L583.6 1313.2L561.6 1313.2Z" fill="#992B00" stroke="#111" stroke-width="1.2"/><path d="M637.1 1327.9L648.1 1347.0L626.1 1347.0Z" fill="#992B00" stroke="#111" stroke-width="1.2"/><path d="M701.5 1381.6L712.5 1400.7L690.5 1400.7Z" fill="#992B00" stroke="#111" stroke-width="1.2"/><rect x="112.1" y="1373.5" width="18.4" height="18.4" fill="#3CC4F4" stroke="#111" stroke-width="1.2"/><rect x="176.6" y="1367.8" width="18.4" height="18.4" fill="#3CC4F4" stroke="#111" stroke-width="1.2"/><rect x="241.1" y="1346.6" width="18.4" height="18.4" fill="#3CC4F4" stroke="#111" stroke-width="1.2"/><rect x="305.5" y="1318.0" width="18.4" height="18.4" fill="#3CC4F4" stroke="#111" stroke-width="1.2"/><rect x="370.0" y="1329.1" width="18.4" height="18.4" fill="#3CC4F4" stroke="#111" stroke-width="1.2"/><rect x="434.5" y="1343.7" width="18.4" height="18.4" fill="#3CC4F4" stroke="#111" stroke-width="1.2"/><rect x="498.9" y="1407.8" width="18.4" height="18.4" fill="#3CC4F4" stroke="#111" stroke-width="1.2"/><rect x="563.4" y="1406.7" width="18.4" height="18.4" fill="#3CC4F4" stroke="#111" stroke-width="1.2"/><rect x="627.9" y="1404.9" width="18.4" height="18.4" fill="#3CC4F4" stroke="#111" stroke-width="1.2"/><rect x="692.3" y="1404.9" width="18.4" height="18.4" fill="#3CC4F4" stroke="#111" stroke-width="1.2"/><rect x="112.1" y="1367.8" width="18.4" height="18.4" fill="#FF4A00" stroke="#111" stroke-width="1.2"/><rect x="176.6" y="1364.9" width="18.4" height="18.4" fill="#FF4A00" stroke="#111" stroke-width="1.2"/><rect x="241.1" y="1274.8" width="18.4" height="18.4" fill="#FF4A00" stroke="#111" stroke-width="1.2"/><rect x="305.5" y="1253.9" width="18.4" height="18.4" fill="#FF4A00" stroke="#111" stroke-width="1.2"/><rect x="370.0" y="1294.5" width="18.4" height="18.4" fill="#FF4A00" stroke="#111" stroke-width="1.2"/><rect x="434.5" y="1255.1" width="18.4" height="18.4" fill="#FF4A00" stroke="#111" stroke-width="1.2"/><rect x="498.9" y="1307.4" width="18.4" height="18.4" fill="#FF4A00" stroke="#111" stroke-width="1.2"/><rect x="563.4" y="1339.2" width="18.4" height="18.4" fill="#FF4A00" stroke="#111" stroke-width="1.2"/><rect x="627.9" y="1390.1" width="18.4" height="18.4" fill="#FF4A00" stroke="#111" stroke-width="1.2"/><rect x="692.3" y="1387.8" width="18.4" height="18.4" fill="#FF4A00" stroke="#111" stroke-width="1.2"/><path d="M121.3 1370.4L133.6 1382.7L121.3 1395.0L109.0 1382.7Z" fill="#4A7BEA" stroke="#111" stroke-width="1.2"/><path d="M185.8 1358.9L198.1 1371.2L185.8 1383.5L173.5 1371.2Z" fill="#4A7BEA" stroke="#111" stroke-width="1.2"/><path d="M250.3 1304.6L262.6 1316.9L250.3 1329.2L238.0 1316.9Z" fill="#4A7BEA" stroke="#111" stroke-width="1.2"/><path d="M314.7 1238.8L327.0 1251.1L314.7 1263.4L302.4 1251.1Z" fill="#4A7BEA" stroke="#111" stroke-width="1.2"/><path d="M379.2 1304.3L391.5 1316.6L379.2 1328.9L366.9 1316.6Z" fill="#4A7BEA" stroke="#111" stroke-width="1.2"/><path d="M443.7 1358.4L456.0 1370.7L443.7 1383.0L431.4 1370.7Z" fill="#4A7BEA" stroke="#111" stroke-width="1.2"/><path d="M508.1 1403.0L520.4 1415.3L508.1 1427.6L495.8 1415.3Z" fill="#4A7BEA" stroke="#111" stroke-width="1.2"/><path d="M572.6 1393.3L584.9 1405.6L572.6 1417.9L560.3 1405.6Z" fill="#4A7BEA" stroke="#111" stroke-width="1.2"/><path d="M637.1 1384.7L649.4 1397.0L637.1 1409.3L624.8 1397.0Z" fill="#4A7BEA" stroke="#111" stroke-width="1.2"/><path d="M701.5 1399.0L713.8 1411.3L701.5 1423.6L689.2 1411.3Z" fill="#4A7BEA" stroke="#111" stroke-width="1.2"/><circle cx="121.3" cy="1390.7" r="10.2" fill="#3A62D2" stroke="#111" stroke-width="1.2"/><circle cx="185.8" cy="1358.7" r="10.2" fill="#3A62D2" stroke="#111" stroke-width="1.2"/><circle cx="250.3" cy="1315.2" r="10.2" fill="#3A62D2" stroke="#111" stroke-width="1.2"/><circle cx="314.7" cy="1290.0" r="10.2" fill="#3A62D2" stroke="#111" stroke-width="1.2"/><circle cx="379.2" cy="1236.8" r="10.2" fill="#3A62D2" stroke="#111" stroke-width="1.2"/><circle cx="443.7" cy="1352.9" r="10.2" fill="#3A62D2" stroke="#111" stroke-width="1.2"/><circle cx="508.1" cy="1391.0" r="10.2" fill="#3A62D2" stroke="#111" stroke-width="1.2"/><circle cx="572.6" cy="1411.3" r="10.2" fill="#3A62D2" stroke="#111" stroke-width="1.2"/><circle cx="637.1" cy="1414.1" r="10.2" fill="#3A62D2" stroke="#111" stroke-width="1.2"/><circle cx="701.5" cy="1414.1" r="10.2" fill="#3A62D2" stroke="#111" stroke-width="1.2"/><path d="M113.0 1371.5L129.6 1388.1M129.6 1371.5L113.0 1388.1" stroke="#1a1a1a" stroke-width="4.4" stroke-linecap="square" fill="none"/><path d="M113.0 1371.5L129.6 1388.1M129.6 1371.5L113.0 1388.1" stroke="#8e8e8e" stroke-width="2.2" fill="none"/><path d="M177.5 1383.7L194.1 1400.3M194.1 1383.7L177.5 1400.3" stroke="#1a1a1a" stroke-width="4.4" stroke-linecap="square" fill="none"/><path d="M177.5 1383.7L194.1 1400.3M194.1 1383.7L177.5 1400.3" stroke="#8e8e8e" stroke-width="2.2" fill="none"/><path d="M242.0 1325.8L258.6 1342.4M258.6 1325.8L242.0 1342.4" stroke="#1a1a1a" stroke-width="4.4" stroke-linecap="square" fill="none"/><path d="M242.0 1325.8L258.6 1342.4M258.6 1325.8L242.0 1342.4" stroke="#8e8e8e" stroke-width="2.2" fill="none"/><path d="M306.4 1216.5L323.0 1233.1M323.0 1216.5L306.4 1233.1" stroke="#1a1a1a" stroke-width="4.4" stroke-linecap="square" fill="none"/><path d="M306.4 1216.5L323.0 1233.1M323.0 1216.5L306.4 1233.1" stroke="#8e8e8e" stroke-width="2.2" fill="none"/><path d="M370.9 1302.3L387.5 1318.9M387.5 1302.3L370.9 1318.9" stroke="#1a1a1a" stroke-width="4.4" stroke-linecap="square" fill="none"/><path d="M370.9 1302.3L387.5 1318.9M387.5 1302.3L370.9 1318.9" stroke="#8e8e8e" stroke-width="2.2" fill="none"/><path d="M435.4 1393.8L452.0 1410.4M452.0 1393.8L435.4 1410.4" stroke="#1a1a1a" stroke-width="4.4" stroke-linecap="square" fill="none"/><path d="M435.4 1393.8L452.0 1410.4M452.0 1393.8L435.4 1410.4" stroke="#8e8e8e" stroke-width="2.2" fill="none"/><path d="M499.8 1395.0L516.4 1411.6M516.4 1395.0L499.8 1411.6" stroke="#1a1a1a" stroke-width="4.4" stroke-linecap="square" fill="none"/><path d="M499.8 1395.0L516.4 1411.6M516.4 1395.0L499.8 1411.6" stroke="#8e8e8e" stroke-width="2.2" fill="none"/><path d="M564.3 1405.8L580.9 1422.4M580.9 1405.8L564.3 1422.4" stroke="#1a1a1a" stroke-width="4.4" stroke-linecap="square" fill="none"/><path d="M564.3 1405.8L580.9 1422.4M580.9 1405.8L564.3 1422.4" stroke="#8e8e8e" stroke-width="2.2" fill="none"/><path d="M628.8 1405.8L645.4 1422.4M645.4 1405.8L628.8 1422.4" stroke="#1a1a1a" stroke-width="4.4" stroke-linecap="square" fill="none"/><path d="M628.8 1405.8L645.4 1422.4M645.4 1405.8L628.8 1422.4" stroke="#8e8e8e" stroke-width="2.2" fill="none"/><path d="M693.2 1405.8L709.8 1422.4M709.8 1405.8L693.2 1422.4" stroke="#1a1a1a" stroke-width="4.4" stroke-linecap="square" fill="none"/><path d="M693.2 1405.8L709.8 1422.4M709.8 1405.8L693.2 1422.4" stroke="#8e8e8e" stroke-width="2.2" fill="none"/><path d="M121.3 1361.8L133.6 1374.1L121.3 1386.4L109.0 1374.1Z" fill="#F54200" stroke="#111" stroke-width="1.2"/><path d="M185.8 1361.8L198.1 1374.1L185.8 1386.4L173.5 1374.1Z" fill="#F54200" stroke="#111" stroke-width="1.2"/><path d="M250.3 1165.6L262.6 1177.9L250.3 1190.2L238.0 1177.9Z" fill="#F54200" stroke="#111" stroke-width="1.2"/><path d="M314.7 1273.1L327.0 1285.4L314.7 1297.7L302.4 1285.4Z" fill="#F54200" stroke="#111" stroke-width="1.2"/><path d="M379.2 1175.3L391.5 1187.6L379.2 1199.9L366.9 1187.6Z" fill="#F54200" stroke="#111" stroke-width="1.2"/><path d="M443.7 1356.4L456.0 1368.7L443.7 1381.0L431.4 1368.7Z" fill="#F54200" stroke="#111" stroke-width="1.2"/><path d="M508.1 1390.4L520.4 1402.7L508.1 1415.0L495.8 1402.7Z" fill="#F54200" stroke="#111" stroke-width="1.2"/><path d="M572.6 1396.1L584.9 1408.4L572.6 1420.7L560.3 1408.4Z" fill="#F54200" stroke="#111" stroke-width="1.2"/><path d="M637.1 1401.8L649.4 1414.1L637.1 1426.4L624.8 1414.1Z" fill="#F54200" stroke="#111" stroke-width="1.2"/><path d="M701.5 1399.0L713.8 1411.3L701.5 1423.6L689.2 1411.3Z" fill="#F54200" stroke="#111" stroke-width="1.2"/><path d="M121.3 1370.2L132.3 1389.3L110.3 1389.3Z" fill="#27469C" stroke="#111" stroke-width="1.2"/><path d="M185.8 1361.6L196.8 1380.7L174.8 1380.7Z" fill="#27469C" stroke="#111" stroke-width="1.2"/><path d="M250.3 1306.7L261.3 1325.8L239.3 1325.8Z" fill="#27469C" stroke="#111" stroke-width="1.2"/><path d="M314.7 1209.4L325.7 1228.5L303.7 1228.5Z" fill="#27469C" stroke="#111" stroke-width="1.2"/><path d="M379.2 1114.5L390.2 1133.6L368.2 1133.6Z" fill="#27469C" stroke="#111" stroke-width="1.2"/><path d="M443.7 1247.2L454.7 1266.3L432.7 1266.3Z" fill="#27469C" stroke="#111" stroke-width="1.2"/><path d="M508.1 1291.2L519.1 1310.3L497.1 1310.3Z" fill="#27469C" stroke="#111" stroke-width="1.2"/><path d="M572.6 1393.6L583.6 1412.7L561.6 1412.7Z" fill="#27469C" stroke="#111" stroke-width="1.2"/><path d="M637.1 1387.3L648.1 1406.4L626.1 1406.4Z" fill="#27469C" stroke="#111" stroke-width="1.2"/><path d="M701.5 1364.5L712.5 1383.6L690.5 1383.6Z" fill="#27469C" stroke="#111" stroke-width="1.2"/><circle cx="121.3" cy="1376.0" r="10.2" fill="#D03C00" stroke="#111" stroke-width="1.2"/><circle cx="185.8" cy="1374.7" r="10.2" fill="#D03C00" stroke="#111" stroke-width="1.2"/><circle cx="250.3" cy="1139.6" r="10.2" fill="#D03C00" stroke="#111" stroke-width="1.2"/><circle cx="314.7" cy="1196.8" r="10.2" fill="#D03C00" stroke="#111" stroke-width="1.2"/><circle cx="379.2" cy="1261.4" r="10.2" fill="#D03C00" stroke="#111" stroke-width="1.2"/><circle cx="443.7" cy="1319.2" r="10.2" fill="#D03C00" stroke="#111" stroke-width="1.2"/><circle cx="508.1" cy="1404.4" r="10.2" fill="#D03C00" stroke="#111" stroke-width="1.2"/><circle cx="572.6" cy="1416.4" r="10.2" fill="#D03C00" stroke="#111" stroke-width="1.2"/><circle cx="637.1" cy="1413.0" r="10.2" fill="#D03C00" stroke="#111" stroke-width="1.2"/><circle cx="701.5" cy="1413.0" r="10.2" fill="#D03C00" stroke="#111" stroke-width="1.2"/></g><g><path d="M811.4 1423.4V965.5H1456V1423.4" fill="none" stroke="#1a1a1a" stroke-width="1.45"/><path d="M804.4 1416.4H1456" fill="none" stroke="#1a1a1a" stroke-width="1.45"/><path d="M804.4 1416.4H811.4" stroke="#1a1a1a" stroke-width="1.45"/><text x="790.9" y="1425.1" font-size="24" text-anchor="end">0</text><path d="M804.4 1300.6H811.4" stroke="#1a1a1a" stroke-width="1.45"/><text x="790.9" y="1309.3" font-size="24" text-anchor="end">10</text><path d="M804.4 1184.8H811.4" stroke="#1a1a1a" stroke-width="1.45"/><text x="790.9" y="1193.5" font-size="24" text-anchor="end">20</text><path d="M804.4 1069.0H811.4" stroke="#1a1a1a" stroke-width="1.45"/><text x="790.9" y="1077.7" font-size="24" text-anchor="end">30</text><path d="M972.5 1416.4V1423.4" stroke="#1a1a1a" stroke-width="1.45"/><path d="M1133.7 1416.4V1423.4" stroke="#1a1a1a" stroke-width="1.45"/><path d="M1294.8 1416.4V1423.4" stroke="#1a1a1a" stroke-width="1.45"/><text x="809.9" y="1459.4" font-size="24" text-anchor="middle">0</text><text x="971.0" y="1459.4" font-size="24" text-anchor="middle">10</text><text x="1132.2" y="1459.4" font-size="24" text-anchor="middle">20</text><text x="1293.3" y="1459.4" font-size="24" text-anchor="middle">30</text><text x="1454.5" y="1459.4" font-size="24" text-anchor="middle">40</text><text x="1131.4" y="1503.2" font-size="28" text-anchor="middle">Time (d)</text><text x="850" y="1036.6" font-size="30" font-weight="bold">F</text><polyline points="827.5,1416.4 892.0,1410.6 956.4,1081.7 1020.9,1415.7 1085.4,1415.7 1149.8,1407.1 1214.3,1410.6 1278.7,1381.7 1343.2,1355.3 1407.7,1380.2" fill="none" stroke="#1a1a1a" stroke-width="1.1"/><polyline points="827.5,1416.4 892.0,1404.8 956.4,1404.8 1020.9,1393.2 1085.4,1360.8 1149.8,1387.5 1214.3,1410.6 1278.7,1410.6 1343.2,1410.6 1407.7,1410.6" fill="none" stroke="#1a1a1a" stroke-width="1.1"/><polyline points="827.5,1416.4 892.0,1397.9 956.4,1388.6 1020.9,1388.6 1085.4,1396.4 1149.8,1372.6 1214.3,1401.8 1278.7,1404.0 1343.2,1394.7 1407.7,1410.6" fill="none" stroke="#1a1a1a" stroke-width="1.1"/><polyline points="827.5,1416.4 892.0,1403.7 956.4,1402.5 1020.9,1343.7 1085.4,1361.7 1149.8,1404.8 1214.3,1412.9 1278.7,1412.9 1343.2,1410.6 1407.7,1409.5" fill="none" stroke="#1a1a1a" stroke-width="1.1"/><polyline points="827.5,1416.4 892.0,1407.1 956.4,1396.4 1020.9,1356.2 1085.4,1275.5 1149.8,1395.0 1214.3,1412.9 1278.7,1412.9 1343.2,1410.6 1407.7,1410.6" fill="none" stroke="#1a1a1a" stroke-width="1.1"/><polyline points="827.5,1416.4 892.0,1410.6 956.4,1412.9 1020.9,1375.9 1085.4,1382.0 1149.8,1410.6 1214.3,1412.9 1278.7,1412.9 1343.2,1412.9 1407.7,1412.9" fill="none" stroke="#1a1a1a" stroke-width="1.1"/><polyline points="827.5,1416.4 892.0,1403.7 956.4,1415.2 1020.9,1321.8 1085.4,1314.8 1149.8,1407.1 1214.3,1412.9 1278.7,1412.9 1343.2,1414.1 1407.7,1416.4" fill="none" stroke="#1a1a1a" stroke-width="1.1"/><polyline points="827.5,1416.4 892.0,1407.1 956.4,1410.6 1020.9,1331.9 1085.4,1194.1 1149.8,1346.2 1214.3,1398.3 1278.7,1412.9 1343.2,1402.7 1407.7,1388.4" fill="none" stroke="#1a1a1a" stroke-width="1.1"/><polyline points="827.5,1416.4 892.0,1412.9 956.4,1415.7 1020.9,1405.4 1085.4,1367.3 1149.8,1412.3 1214.3,1416.1 1278.7,1416.4 1343.2,1413.6 1407.7,1413.6" fill="none" stroke="#1a1a1a" stroke-width="1.1"/><path d="M827.5 1403.9L838.5 1423.0L816.5 1423.0Z" fill="#992B00" stroke="#111" stroke-width="1.2"/><path d="M892.0 1398.1L903.0 1417.2L881.0 1417.2Z" fill="#992B00" stroke="#111" stroke-width="1.2"/><path d="M956.4 1069.2L967.4 1088.3L945.4 1088.3Z" fill="#992B00" stroke="#111" stroke-width="1.2"/><path d="M1020.9 1403.2L1031.9 1422.3L1009.9 1422.3Z" fill="#992B00" stroke="#111" stroke-width="1.2"/><path d="M1085.4 1403.2L1096.4 1422.3L1074.4 1422.3Z" fill="#992B00" stroke="#111" stroke-width="1.2"/><path d="M1149.8 1394.6L1160.8 1413.7L1138.8 1413.7Z" fill="#992B00" stroke="#111" stroke-width="1.2"/><path d="M1214.3 1398.1L1225.3 1417.2L1203.3 1417.2Z" fill="#992B00" stroke="#111" stroke-width="1.2"/><path d="M1278.7 1369.2L1289.7 1388.3L1267.7 1388.3Z" fill="#992B00" stroke="#111" stroke-width="1.2"/><path d="M1343.2 1342.8L1354.2 1361.9L1332.2 1361.9Z" fill="#992B00" stroke="#111" stroke-width="1.2"/><path d="M1407.7 1367.7L1418.7 1386.8L1396.7 1386.8Z" fill="#992B00" stroke="#111" stroke-width="1.2"/><rect x="818.3" y="1407.2" width="18.4" height="18.4" fill="#3CC4F4" stroke="#111" stroke-width="1.2"/><rect x="882.8" y="1395.6" width="18.4" height="18.4" fill="#3CC4F4" stroke="#111" stroke-width="1.2"/><rect x="947.2" y="1395.6" width="18.4" height="18.4" fill="#3CC4F4" stroke="#111" stroke-width="1.2"/><rect x="1011.7" y="1384.0" width="18.4" height="18.4" fill="#3CC4F4" stroke="#111" stroke-width="1.2"/><rect x="1076.2" y="1351.6" width="18.4" height="18.4" fill="#3CC4F4" stroke="#111" stroke-width="1.2"/><rect x="1140.6" y="1378.2" width="18.4" height="18.4" fill="#3CC4F4" stroke="#111" stroke-width="1.2"/><rect x="1205.1" y="1401.4" width="18.4" height="18.4" fill="#3CC4F4" stroke="#111" stroke-width="1.2"/><rect x="1269.5" y="1401.4" width="18.4" height="18.4" fill="#3CC4F4" stroke="#111" stroke-width="1.2"/><rect x="1334.0" y="1401.4" width="18.4" height="18.4" fill="#3CC4F4" stroke="#111" stroke-width="1.2"/><rect x="1398.5" y="1401.4" width="18.4" height="18.4" fill="#3CC4F4" stroke="#111" stroke-width="1.2"/><rect x="818.3" y="1407.2" width="18.4" height="18.4" fill="#FF4A00" stroke="#111" stroke-width="1.2"/><rect x="882.8" y="1388.7" width="18.4" height="18.4" fill="#FF4A00" stroke="#111" stroke-width="1.2"/><rect x="947.2" y="1379.4" width="18.4" height="18.4" fill="#FF4A00" stroke="#111" stroke-width="1.2"/><rect x="1011.7" y="1379.4" width="18.4" height="18.4" fill="#FF4A00" stroke="#111" stroke-width="1.2"/><rect x="1076.2" y="1387.2" width="18.4" height="18.4" fill="#FF4A00" stroke="#111" stroke-width="1.2"/><rect x="1140.6" y="1363.4" width="18.4" height="18.4" fill="#FF4A00" stroke="#111" stroke-width="1.2"/><rect x="1205.1" y="1392.6" width="18.4" height="18.4" fill="#FF4A00" stroke="#111" stroke-width="1.2"/><rect x="1269.5" y="1394.8" width="18.4" height="18.4" fill="#FF4A00" stroke="#111" stroke-width="1.2"/><rect x="1334.0" y="1385.5" width="18.4" height="18.4" fill="#FF4A00" stroke="#111" stroke-width="1.2"/><rect x="1398.5" y="1401.4" width="18.4" height="18.4" fill="#FF4A00" stroke="#111" stroke-width="1.2"/><path d="M827.5 1404.1L839.8 1416.4L827.5 1428.7L815.2 1416.4Z" fill="#4A7BEA" stroke="#111" stroke-width="1.2"/><path d="M892.0 1391.4L904.3 1403.7L892.0 1416.0L879.7 1403.7Z" fill="#4A7BEA" stroke="#111" stroke-width="1.2"/><path d="M956.4 1390.2L968.7 1402.5L956.4 1414.8L944.1 1402.5Z" fill="#4A7BEA" stroke="#111" stroke-width="1.2"/><path d="M1020.9 1331.4L1033.2 1343.7L1020.9 1356.0L1008.6 1343.7Z" fill="#4A7BEA" stroke="#111" stroke-width="1.2"/><path d="M1085.4 1349.4L1097.7 1361.7L1085.4 1374.0L1073.1 1361.7Z" fill="#4A7BEA" stroke="#111" stroke-width="1.2"/><path d="M1149.8 1392.5L1162.1 1404.8L1149.8 1417.1L1137.5 1404.8Z" fill="#4A7BEA" stroke="#111" stroke-width="1.2"/><path d="M1214.3 1400.6L1226.6 1412.9L1214.3 1425.2L1202.0 1412.9Z" fill="#4A7BEA" stroke="#111" stroke-width="1.2"/><path d="M1278.7 1400.6L1291.0 1412.9L1278.7 1425.2L1266.4 1412.9Z" fill="#4A7BEA" stroke="#111" stroke-width="1.2"/><path d="M1343.2 1398.3L1355.5 1410.6L1343.2 1422.9L1330.9 1410.6Z" fill="#4A7BEA" stroke="#111" stroke-width="1.2"/><path d="M1407.7 1397.2L1420.0 1409.5L1407.7 1421.8L1395.4 1409.5Z" fill="#4A7BEA" stroke="#111" stroke-width="1.2"/><circle cx="827.5" cy="1416.4" r="10.2" fill="#3A62D2" stroke="#111" stroke-width="1.2"/><circle cx="892.0" cy="1407.1" r="10.2" fill="#3A62D2" stroke="#111" stroke-width="1.2"/><circle cx="956.4" cy="1396.4" r="10.2" fill="#3A62D2" stroke="#111" stroke-width="1.2"/><circle cx="1020.9" cy="1356.2" r="10.2" fill="#3A62D2" stroke="#111" stroke-width="1.2"/><circle cx="1085.4" cy="1275.5" r="10.2" fill="#3A62D2" stroke="#111" stroke-width="1.2"/><circle cx="1149.8" cy="1395.0" r="10.2" fill="#3A62D2" stroke="#111" stroke-width="1.2"/><circle cx="1214.3" cy="1412.9" r="10.2" fill="#3A62D2" stroke="#111" stroke-width="1.2"/><circle cx="1278.7" cy="1412.9" r="10.2" fill="#3A62D2" stroke="#111" stroke-width="1.2"/><circle cx="1343.2" cy="1410.6" r="10.2" fill="#3A62D2" stroke="#111" stroke-width="1.2"/><circle cx="1407.7" cy="1410.6" r="10.2" fill="#3A62D2" stroke="#111" stroke-width="1.2"/><path d="M819.2 1408.1L835.8 1424.7M835.8 1408.1L819.2 1424.7" stroke="#1a1a1a" stroke-width="4.4" stroke-linecap="square" fill="none"/><path d="M819.2 1408.1L835.8 1424.7M835.8 1408.1L819.2 1424.7" stroke="#8e8e8e" stroke-width="2.2" fill="none"/><path d="M883.7 1402.3L900.3 1418.9M900.3 1402.3L883.7 1418.9" stroke="#1a1a1a" stroke-width="4.4" stroke-linecap="square" fill="none"/><path d="M883.7 1402.3L900.3 1418.9M900.3 1402.3L883.7 1418.9" stroke="#8e8e8e" stroke-width="2.2" fill="none"/><path d="M948.1 1404.6L964.7 1421.2M964.7 1404.6L948.1 1421.2" stroke="#1a1a1a" stroke-width="4.4" stroke-linecap="square" fill="none"/><path d="M948.1 1404.6L964.7 1421.2M964.7 1404.6L948.1 1421.2" stroke="#8e8e8e" stroke-width="2.2" fill="none"/><path d="M1012.6 1367.6L1029.2 1384.2M1029.2 1367.6L1012.6 1384.2" stroke="#1a1a1a" stroke-width="4.4" stroke-linecap="square" fill="none"/><path d="M1012.6 1367.6L1029.2 1384.2M1029.2 1367.6L1012.6 1384.2" stroke="#8e8e8e" stroke-width="2.2" fill="none"/><path d="M1077.1 1373.7L1093.7 1390.3M1093.7 1373.7L1077.1 1390.3" stroke="#1a1a1a" stroke-width="4.4" stroke-linecap="square" fill="none"/><path d="M1077.1 1373.7L1093.7 1390.3M1093.7 1373.7L1077.1 1390.3" stroke="#8e8e8e" stroke-width="2.2" fill="none"/><path d="M1141.5 1402.3L1158.1 1418.9M1158.1 1402.3L1141.5 1418.9" stroke="#1a1a1a" stroke-width="4.4" stroke-linecap="square" fill="none"/><path d="M1141.5 1402.3L1158.1 1418.9M1158.1 1402.3L1141.5 1418.9" stroke="#8e8e8e" stroke-width="2.2" fill="none"/><path d="M1206.0 1404.6L1222.6 1421.2M1222.6 1404.6L1206.0 1421.2" stroke="#1a1a1a" stroke-width="4.4" stroke-linecap="square" fill="none"/><path d="M1206.0 1404.6L1222.6 1421.2M1222.6 1404.6L1206.0 1421.2" stroke="#8e8e8e" stroke-width="2.2" fill="none"/><path d="M1270.4 1404.6L1287.0 1421.2M1287.0 1404.6L1270.4 1421.2" stroke="#1a1a1a" stroke-width="4.4" stroke-linecap="square" fill="none"/><path d="M1270.4 1404.6L1287.0 1421.2M1287.0 1404.6L1270.4 1421.2" stroke="#8e8e8e" stroke-width="2.2" fill="none"/><path d="M1334.9 1404.6L1351.5 1421.2M1351.5 1404.6L1334.9 1421.2" stroke="#1a1a1a" stroke-width="4.4" stroke-linecap="square" fill="none"/><path d="M1334.9 1404.6L1351.5 1421.2M1351.5 1404.6L1334.9 1421.2" stroke="#8e8e8e" stroke-width="2.2" fill="none"/><path d="M1399.4 1404.6L1416.0 1421.2M1416.0 1404.6L1399.4 1421.2" stroke="#1a1a1a" stroke-width="4.4" stroke-linecap="square" fill="none"/><path d="M1399.4 1404.6L1416.0 1421.2M1416.0 1404.6L1399.4 1421.2" stroke="#8e8e8e" stroke-width="2.2" fill="none"/><path d="M827.5 1404.1L839.8 1416.4L827.5 1428.7L815.2 1416.4Z" fill="#F54200" stroke="#111" stroke-width="1.2"/><path d="M892.0 1391.4L904.3 1403.7L892.0 1416.0L879.7 1403.7Z" fill="#F54200" stroke="#111" stroke-width="1.2"/><path d="M956.4 1402.9L968.7 1415.2L956.4 1427.5L944.1 1415.2Z" fill="#F54200" stroke="#111" stroke-width="1.2"/><path d="M1020.9 1309.5L1033.2 1321.8L1020.9 1334.1L1008.6 1321.8Z" fill="#F54200" stroke="#111" stroke-width="1.2"/><path d="M1085.4 1302.5L1097.7 1314.8L1085.4 1327.1L1073.1 1314.8Z" fill="#F54200" stroke="#111" stroke-width="1.2"/><path d="M1149.8 1394.8L1162.1 1407.1L1149.8 1419.4L1137.5 1407.1Z" fill="#F54200" stroke="#111" stroke-width="1.2"/><path d="M1214.3 1400.6L1226.6 1412.9L1214.3 1425.2L1202.0 1412.9Z" fill="#F54200" stroke="#111" stroke-width="1.2"/><path d="M1278.7 1400.6L1291.0 1412.9L1278.7 1425.2L1266.4 1412.9Z" fill="#F54200" stroke="#111" stroke-width="1.2"/><path d="M1343.2 1401.8L1355.5 1414.1L1343.2 1426.4L1330.9 1414.1Z" fill="#F54200" stroke="#111" stroke-width="1.2"/><path d="M1407.7 1404.1L1420.0 1416.4L1407.7 1428.7L1395.4 1416.4Z" fill="#F54200" stroke="#111" stroke-width="1.2"/><path d="M827.5 1403.9L838.5 1423.0L816.5 1423.0Z" fill="#27469C" stroke="#111" stroke-width="1.2"/><path d="M892.0 1394.6L903.0 1413.7L881.0 1413.7Z" fill="#27469C" stroke="#111" stroke-width="1.2"/><path d="M956.4 1398.1L967.4 1417.2L945.4 1417.2Z" fill="#27469C" stroke="#111" stroke-width="1.2"/><path d="M1020.9 1319.4L1031.9 1338.5L1009.9 1338.5Z" fill="#27469C" stroke="#111" stroke-width="1.2"/><path d="M1085.4 1181.6L1096.4 1200.7L1074.4 1200.7Z" fill="#27469C" stroke="#111" stroke-width="1.2"/><path d="M1149.8 1333.7L1160.8 1352.8L1138.8 1352.8Z" fill="#27469C" stroke="#111" stroke-width="1.2"/><path d="M1214.3 1385.8L1225.3 1404.9L1203.3 1404.9Z" fill="#27469C" stroke="#111" stroke-width="1.2"/><path d="M1278.7 1400.4L1289.7 1419.5L1267.7 1419.5Z" fill="#27469C" stroke="#111" stroke-width="1.2"/><path d="M1343.2 1390.2L1354.2 1409.3L1332.2 1409.3Z" fill="#27469C" stroke="#111" stroke-width="1.2"/><path d="M1407.7 1375.9L1418.7 1395.0L1396.7 1395.0Z" fill="#27469C" stroke="#111" stroke-width="1.2"/><circle cx="827.5" cy="1416.4" r="10.2" fill="#D03C00" stroke="#111" stroke-width="1.2"/><circle cx="892.0" cy="1412.9" r="10.2" fill="#D03C00" stroke="#111" stroke-width="1.2"/><circle cx="956.4" cy="1415.7" r="10.2" fill="#D03C00" stroke="#111" stroke-width="1.2"/><circle cx="1020.9" cy="1405.4" r="10.2" fill="#D03C00" stroke="#111" stroke-width="1.2"/><circle cx="1085.4" cy="1367.3" r="10.2" fill="#D03C00" stroke="#111" stroke-width="1.2"/><circle cx="1149.8" cy="1412.3" r="10.2" fill="#D03C00" stroke="#111" stroke-width="1.2"/><circle cx="1214.3" cy="1416.1" r="10.2" fill="#D03C00" stroke="#111" stroke-width="1.2"/><circle cx="1278.7" cy="1416.4" r="10.2" fill="#D03C00" stroke="#111" stroke-width="1.2"/><circle cx="1343.2" cy="1413.6" r="10.2" fill="#D03C00" stroke="#111" stroke-width="1.2"/><circle cx="1407.7" cy="1413.6" r="10.2" fill="#D03C00" stroke="#111" stroke-width="1.2"/></g><rect x="1153" y="981" width="278" height="283" fill="#fff" stroke="#1a1a1a" stroke-width="1.45"/><path d="M1169.4 1011.9H1220.7" stroke="#1a1a1a" stroke-width="1.4"/><rect x="1185.6" y="1002.7" width="18.4" height="18.4" fill="#FF4A00" stroke="#111" stroke-width="1.2"/><text x="1233" y="1019.6" font-size="22">Singular low</text><path d="M1169.4 1039.7H1220.7" stroke="#1a1a1a" stroke-width="1.4"/><path d="M1194.8 1027.4L1207.1 1039.7L1194.8 1052.0L1182.5 1039.7Z" fill="#F54200" stroke="#111" stroke-width="1.2"/><text x="1233" y="1047.4" font-size="22">Singular medium</text><path d="M1169.4 1067.4H1220.7" stroke="#1a1a1a" stroke-width="1.4"/><circle cx="1194.8" cy="1067.4" r="10.2" fill="#D03C00" stroke="#111" stroke-width="1.2"/><text x="1233" y="1075.1" font-size="22">Singular high</text><path d="M1169.4 1095.2H1220.7" stroke="#1a1a1a" stroke-width="1.4"/><path d="M1194.8 1082.7L1205.8 1101.8L1183.8 1101.8Z" fill="#992B00" stroke="#111" stroke-width="1.2"/><text x="1233" y="1102.9" font-size="22">Singular extreme</text><path d="M1169.4 1122.9H1220.7" stroke="#1a1a1a" stroke-width="1.4"/><rect x="1185.6" y="1113.7" width="18.4" height="18.4" fill="#3CC4F4" stroke="#111" stroke-width="1.2"/><text x="1233" y="1130.6" font-size="22">Recurring low</text><path d="M1169.4 1150.7H1220.7" stroke="#1a1a1a" stroke-width="1.4"/><path d="M1194.8 1138.4L1207.1 1150.7L1194.8 1163.0L1182.5 1150.7Z" fill="#4A7BEA" stroke="#111" stroke-width="1.2"/><text x="1233" y="1158.4" font-size="22">Recurring medium</text><path d="M1169.4 1178.4H1220.7" stroke="#1a1a1a" stroke-width="1.4"/><circle cx="1194.8" cy="1178.4" r="10.2" fill="#3A62D2" stroke="#111" stroke-width="1.2"/><text x="1233" y="1186.1" font-size="22">Recurring high</text><path d="M1169.4 1206.2H1220.7" stroke="#1a1a1a" stroke-width="1.4"/><path d="M1194.8 1193.7L1205.8 1212.8L1183.8 1212.8Z" fill="#27469C" stroke="#111" stroke-width="1.2"/><text x="1233" y="1213.9" font-size="22">Recurring extreme</text><path d="M1169.4 1233.9H1220.7" stroke="#1a1a1a" stroke-width="1.4"/><path d="M1186.5 1225.6L1203.1 1242.2M1203.1 1225.6L1186.5 1242.2" stroke="#1a1a1a" stroke-width="4.4" stroke-linecap="square" fill="none"/><path d="M1186.5 1225.6L1203.1 1242.2M1203.1 1225.6L1186.5 1242.2" stroke="#8e8e8e" stroke-width="2.2" fill="none"/><text x="1233" y="1241.6" font-size="22">Control</text></svg></body></html>
